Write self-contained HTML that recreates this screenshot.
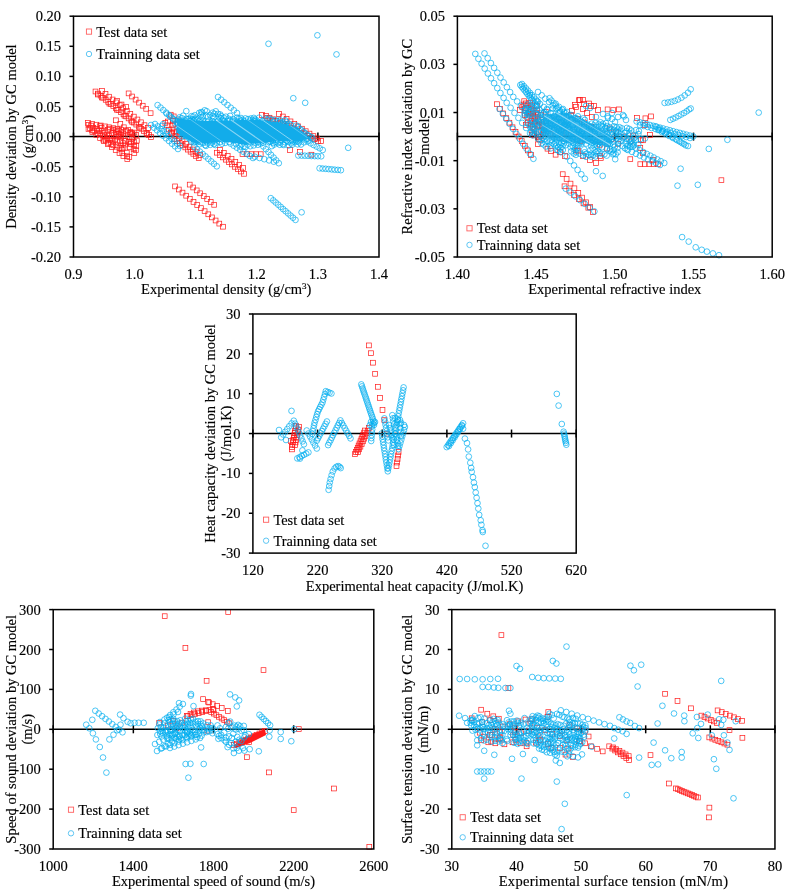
<!DOCTYPE html>
<html><head><meta charset="utf-8"><style>html,body{margin:0;padding:0;background:#fff;width:794px;height:891px;overflow:hidden}svg{display:block;will-change:transform}</style></head>
<body><svg width="794" height="891" viewBox="0 0 794 891" font-family='"Liberation Serif", serif'><g stroke="#000" stroke-width="1.5" fill="none"><line x1="69.50" y1="257.00" x2="73.50" y2="257.00"/><line x1="69.50" y1="226.90" x2="73.50" y2="226.90"/><line x1="69.50" y1="196.80" x2="73.50" y2="196.80"/><line x1="69.50" y1="166.70" x2="73.50" y2="166.70"/><line x1="69.50" y1="136.60" x2="73.50" y2="136.60"/><line x1="69.50" y1="106.50" x2="73.50" y2="106.50"/><line x1="69.50" y1="76.40" x2="73.50" y2="76.40"/><line x1="69.50" y1="46.30" x2="73.50" y2="46.30"/><line x1="69.50" y1="16.20" x2="73.50" y2="16.20"/><line x1="73.50" y1="132.60" x2="73.50" y2="140.60"/><line x1="134.60" y1="132.60" x2="134.60" y2="140.60"/><line x1="195.70" y1="132.60" x2="195.70" y2="140.60"/><line x1="256.80" y1="132.60" x2="256.80" y2="140.60"/><line x1="317.90" y1="132.60" x2="317.90" y2="140.60"/><line x1="379.00" y1="132.60" x2="379.00" y2="140.60"/><line x1="73.50" y1="136.60" x2="379.00" y2="136.60"/></g><g stroke="#FF1A1A" stroke-width="0.7" fill="none"><rect x="93.1" y="89.1" width="4.8" height="4.8"/><rect x="95.6" y="91.2" width="4.8" height="4.8"/><rect x="98.2" y="93.2" width="4.8" height="4.8"/><rect x="100.7" y="95.3" width="4.8" height="4.8"/><rect x="103.3" y="97.4" width="4.8" height="4.8"/><rect x="105.8" y="99.5" width="4.8" height="4.8"/><rect x="108.4" y="101.5" width="4.8" height="4.8"/><rect x="110.9" y="103.6" width="4.8" height="4.8"/><rect x="113.5" y="105.7" width="4.8" height="4.8"/><rect x="116.0" y="107.7" width="4.8" height="4.8"/><rect x="118.6" y="109.8" width="4.8" height="4.8"/><rect x="121.1" y="111.9" width="4.8" height="4.8"/><rect x="123.7" y="114.0" width="4.8" height="4.8"/><rect x="126.2" y="116.0" width="4.8" height="4.8"/><rect x="128.8" y="118.1" width="4.8" height="4.8"/><rect x="131.3" y="120.2" width="4.8" height="4.8"/><rect x="133.9" y="122.2" width="4.8" height="4.8"/><rect x="136.4" y="124.3" width="4.8" height="4.8"/><rect x="139.0" y="126.4" width="4.8" height="4.8"/><rect x="141.5" y="128.5" width="4.8" height="4.8"/><rect x="144.1" y="130.5" width="4.8" height="4.8"/><rect x="146.6" y="132.6" width="4.8" height="4.8"/><rect x="95.6" y="92.1" width="4.8" height="4.8"/><rect x="99.4" y="95.1" width="4.8" height="4.8"/><rect x="107.0" y="101.2" width="4.8" height="4.8"/><rect x="114.5" y="107.3" width="4.8" height="4.8"/><rect x="122.1" y="113.3" width="4.8" height="4.8"/><rect x="129.7" y="119.4" width="4.8" height="4.8"/><rect x="137.2" y="125.5" width="4.8" height="4.8"/><rect x="144.8" y="131.6" width="4.8" height="4.8"/><rect x="148.6" y="134.6" width="4.8" height="4.8"/><rect x="99.6" y="88.6" width="4.8" height="4.8"/><rect x="103.1" y="91.4" width="4.8" height="4.8"/><rect x="106.7" y="94.3" width="4.8" height="4.8"/><rect x="110.2" y="97.1" width="4.8" height="4.8"/><rect x="113.8" y="100.0" width="4.8" height="4.8"/><rect x="117.3" y="102.8" width="4.8" height="4.8"/><rect x="120.8" y="105.7" width="4.8" height="4.8"/><rect x="124.4" y="108.5" width="4.8" height="4.8"/><rect x="127.9" y="111.4" width="4.8" height="4.8"/><rect x="131.4" y="114.2" width="4.8" height="4.8"/><rect x="135.0" y="117.1" width="4.8" height="4.8"/><rect x="138.5" y="119.9" width="4.8" height="4.8"/><rect x="142.1" y="122.8" width="4.8" height="4.8"/><rect x="145.6" y="125.6" width="4.8" height="4.8"/><rect x="114.6" y="98.6" width="4.8" height="4.8"/><rect x="119.1" y="102.1" width="4.8" height="4.8"/><rect x="123.6" y="104.6" width="4.8" height="4.8"/><rect x="126.2" y="91.0" width="4.8" height="4.8"/><rect x="129.7" y="94.1" width="4.8" height="4.8"/><rect x="133.2" y="97.2" width="4.8" height="4.8"/><rect x="136.7" y="100.2" width="4.8" height="4.8"/><rect x="140.3" y="103.3" width="4.8" height="4.8"/><rect x="143.8" y="106.4" width="4.8" height="4.8"/><rect x="148.2" y="110.8" width="4.8" height="4.8"/><rect x="85.6" y="120.5" width="4.8" height="4.8"/><rect x="89.8" y="121.4" width="4.8" height="4.8"/><rect x="94.0" y="122.3" width="4.8" height="4.8"/><rect x="98.3" y="123.1" width="4.8" height="4.8"/><rect x="102.5" y="124.0" width="4.8" height="4.8"/><rect x="106.7" y="124.9" width="4.8" height="4.8"/><rect x="110.9" y="125.8" width="4.8" height="4.8"/><rect x="115.1" y="126.7" width="4.8" height="4.8"/><rect x="119.3" y="127.6" width="4.8" height="4.8"/><rect x="123.6" y="128.4" width="4.8" height="4.8"/><rect x="127.8" y="129.3" width="4.8" height="4.8"/><rect x="132.0" y="130.2" width="4.8" height="4.8"/><rect x="86.1" y="126.7" width="4.8" height="4.8"/><rect x="90.0" y="129.7" width="4.8" height="4.8"/><rect x="93.9" y="132.7" width="4.8" height="4.8"/><rect x="97.7" y="135.7" width="4.8" height="4.8"/><rect x="101.6" y="138.7" width="4.8" height="4.8"/><rect x="105.5" y="141.7" width="4.8" height="4.8"/><rect x="109.4" y="144.7" width="4.8" height="4.8"/><rect x="113.3" y="147.7" width="4.8" height="4.8"/><rect x="117.1" y="150.7" width="4.8" height="4.8"/><rect x="121.0" y="153.7" width="4.8" height="4.8"/><rect x="124.9" y="156.7" width="4.8" height="4.8"/><rect x="128.0" y="130.5" width="4.8" height="4.8"/><rect x="130.1" y="131.5" width="4.8" height="4.8"/><rect x="113.3" y="127.1" width="4.8" height="4.8"/><rect x="116.1" y="128.4" width="4.8" height="4.8"/><rect x="119.0" y="130.1" width="4.8" height="4.8"/><rect x="120.9" y="131.1" width="4.8" height="4.8"/><rect x="127.1" y="134.7" width="4.8" height="4.8"/><rect x="129.8" y="136.0" width="4.8" height="4.8"/><rect x="134.4" y="138.2" width="4.8" height="4.8"/><rect x="107.3" y="126.3" width="4.8" height="4.8"/><rect x="110.8" y="127.9" width="4.8" height="4.8"/><rect x="113.4" y="129.8" width="4.8" height="4.8"/><rect x="116.4" y="131.6" width="4.8" height="4.8"/><rect x="118.1" y="132.8" width="4.8" height="4.8"/><rect x="121.1" y="133.9" width="4.8" height="4.8"/><rect x="128.7" y="139.0" width="4.8" height="4.8"/><rect x="131.5" y="139.6" width="4.8" height="4.8"/><rect x="97.3" y="123.8" width="4.8" height="4.8"/><rect x="99.2" y="125.5" width="4.8" height="4.8"/><rect x="105.4" y="127.6" width="4.8" height="4.8"/><rect x="110.0" y="130.7" width="4.8" height="4.8"/><rect x="113.2" y="133.0" width="4.8" height="4.8"/><rect x="115.9" y="134.2" width="4.8" height="4.8"/><rect x="118.7" y="135.1" width="4.8" height="4.8"/><rect x="123.0" y="138.6" width="4.8" height="4.8"/><rect x="126.4" y="139.6" width="4.8" height="4.8"/><rect x="128.4" y="141.6" width="4.8" height="4.8"/><rect x="131.8" y="143.1" width="4.8" height="4.8"/><rect x="133.9" y="143.6" width="4.8" height="4.8"/><rect x="86.1" y="122.4" width="4.8" height="4.8"/><rect x="88.7" y="123.2" width="4.8" height="4.8"/><rect x="90.9" y="125.5" width="4.8" height="4.8"/><rect x="94.3" y="126.4" width="4.8" height="4.8"/><rect x="96.8" y="128.3" width="4.8" height="4.8"/><rect x="99.3" y="128.8" width="4.8" height="4.8"/><rect x="102.2" y="130.2" width="4.8" height="4.8"/><rect x="104.9" y="132.1" width="4.8" height="4.8"/><rect x="106.6" y="133.4" width="4.8" height="4.8"/><rect x="109.1" y="135.6" width="4.8" height="4.8"/><rect x="112.8" y="137.1" width="4.8" height="4.8"/><rect x="114.6" y="138.0" width="4.8" height="4.8"/><rect x="117.7" y="138.9" width="4.8" height="4.8"/><rect x="120.7" y="140.7" width="4.8" height="4.8"/><rect x="122.7" y="142.1" width="4.8" height="4.8"/><rect x="127.5" y="144.9" width="4.8" height="4.8"/><rect x="131.2" y="146.7" width="4.8" height="4.8"/><rect x="133.5" y="147.8" width="4.8" height="4.8"/><rect x="87.5" y="125.8" width="4.8" height="4.8"/><rect x="89.8" y="127.9" width="4.8" height="4.8"/><rect x="92.0" y="128.6" width="4.8" height="4.8"/><rect x="95.3" y="130.7" width="4.8" height="4.8"/><rect x="97.3" y="131.7" width="4.8" height="4.8"/><rect x="100.2" y="132.8" width="4.8" height="4.8"/><rect x="102.4" y="134.1" width="4.8" height="4.8"/><rect x="104.8" y="135.5" width="4.8" height="4.8"/><rect x="107.7" y="137.8" width="4.8" height="4.8"/><rect x="111.0" y="138.5" width="4.8" height="4.8"/><rect x="118.9" y="143.0" width="4.8" height="4.8"/><rect x="121.1" y="145.2" width="4.8" height="4.8"/><rect x="131.9" y="150.7" width="4.8" height="4.8"/><rect x="100.9" y="137.2" width="4.8" height="4.8"/><rect x="103.5" y="138.1" width="4.8" height="4.8"/><rect x="106.0" y="140.4" width="4.8" height="4.8"/><rect x="108.8" y="141.6" width="4.8" height="4.8"/><rect x="110.9" y="142.9" width="4.8" height="4.8"/><rect x="114.3" y="144.3" width="4.8" height="4.8"/><rect x="117.1" y="145.5" width="4.8" height="4.8"/><rect x="119.4" y="146.9" width="4.8" height="4.8"/><rect x="124.4" y="150.3" width="4.8" height="4.8"/><rect x="119.9" y="150.7" width="4.8" height="4.8"/><rect x="124.6" y="153.8" width="4.8" height="4.8"/><rect x="126.9" y="154.6" width="4.8" height="4.8"/><rect x="113.5" y="117.9" width="4.8" height="4.8"/><rect x="117.9" y="121.4" width="4.8" height="4.8"/><rect x="121.4" y="124.9" width="4.8" height="4.8"/><rect x="125.8" y="127.6" width="4.8" height="4.8"/><rect x="129.3" y="130.2" width="4.8" height="4.8"/><rect x="133.6" y="132.6" width="4.8" height="4.8"/><rect x="172.1" y="136.6" width="4.8" height="4.8"/><rect x="174.8" y="138.7" width="4.8" height="4.8"/><rect x="177.5" y="140.8" width="4.8" height="4.8"/><rect x="180.2" y="142.9" width="4.8" height="4.8"/><rect x="182.9" y="145.0" width="4.8" height="4.8"/><rect x="185.5" y="147.2" width="4.8" height="4.8"/><rect x="188.2" y="149.3" width="4.8" height="4.8"/><rect x="190.9" y="151.4" width="4.8" height="4.8"/><rect x="193.6" y="153.5" width="4.8" height="4.8"/><rect x="196.3" y="155.6" width="4.8" height="4.8"/><rect x="169.6" y="130.6" width="4.8" height="4.8"/><rect x="173.1" y="133.3" width="4.8" height="4.8"/><rect x="176.6" y="136.1" width="4.8" height="4.8"/><rect x="180.1" y="138.8" width="4.8" height="4.8"/><rect x="183.6" y="141.6" width="4.8" height="4.8"/><rect x="187.1" y="144.3" width="4.8" height="4.8"/><rect x="190.6" y="147.1" width="4.8" height="4.8"/><rect x="194.1" y="149.8" width="4.8" height="4.8"/><rect x="197.6" y="152.6" width="4.8" height="4.8"/><rect x="214.4" y="150.3" width="4.8" height="4.8"/><rect x="217.4" y="152.6" width="4.8" height="4.8"/><rect x="220.4" y="155.0" width="4.8" height="4.8"/><rect x="223.5" y="157.3" width="4.8" height="4.8"/><rect x="226.5" y="159.7" width="4.8" height="4.8"/><rect x="229.5" y="162.0" width="4.8" height="4.8"/><rect x="232.5" y="164.4" width="4.8" height="4.8"/><rect x="235.6" y="166.7" width="4.8" height="4.8"/><rect x="238.6" y="169.1" width="4.8" height="4.8"/><rect x="241.6" y="171.4" width="4.8" height="4.8"/><rect x="217.6" y="147.6" width="4.8" height="4.8"/><rect x="221.4" y="150.6" width="4.8" height="4.8"/><rect x="225.3" y="153.6" width="4.8" height="4.8"/><rect x="229.1" y="156.6" width="4.8" height="4.8"/><rect x="232.9" y="159.6" width="4.8" height="4.8"/><rect x="236.8" y="162.6" width="4.8" height="4.8"/><rect x="240.6" y="165.6" width="4.8" height="4.8"/><rect x="240.1" y="151.8" width="4.8" height="4.8"/><rect x="244.7" y="151.8" width="4.8" height="4.8"/><rect x="249.2" y="151.8" width="4.8" height="4.8"/><rect x="253.7" y="151.8" width="4.8" height="4.8"/><rect x="258.3" y="151.8" width="4.8" height="4.8"/><rect x="263.6" y="113.6" width="4.8" height="4.8"/><rect x="267.1" y="115.3" width="4.8" height="4.8"/><rect x="270.5" y="116.9" width="4.8" height="4.8"/><rect x="274.0" y="118.6" width="4.8" height="4.8"/><rect x="277.5" y="120.3" width="4.8" height="4.8"/><rect x="280.9" y="121.9" width="4.8" height="4.8"/><rect x="284.4" y="123.6" width="4.8" height="4.8"/><rect x="287.9" y="125.3" width="4.8" height="4.8"/><rect x="291.3" y="126.9" width="4.8" height="4.8"/><rect x="294.8" y="128.6" width="4.8" height="4.8"/><rect x="298.3" y="130.3" width="4.8" height="4.8"/><rect x="301.7" y="131.9" width="4.8" height="4.8"/><rect x="305.2" y="133.6" width="4.8" height="4.8"/><rect x="308.7" y="135.3" width="4.8" height="4.8"/><rect x="312.1" y="136.9" width="4.8" height="4.8"/><rect x="315.6" y="138.6" width="4.8" height="4.8"/><rect x="276.6" y="111.6" width="4.8" height="4.8"/><rect x="280.4" y="114.1" width="4.8" height="4.8"/><rect x="284.2" y="116.5" width="4.8" height="4.8"/><rect x="288.1" y="119.0" width="4.8" height="4.8"/><rect x="291.9" y="121.4" width="4.8" height="4.8"/><rect x="295.7" y="123.9" width="4.8" height="4.8"/><rect x="299.5" y="126.3" width="4.8" height="4.8"/><rect x="303.3" y="128.8" width="4.8" height="4.8"/><rect x="307.1" y="131.2" width="4.8" height="4.8"/><rect x="311.0" y="133.7" width="4.8" height="4.8"/><rect x="314.8" y="136.1" width="4.8" height="4.8"/><rect x="318.6" y="138.6" width="4.8" height="4.8"/><rect x="259.6" y="112.6" width="4.8" height="4.8"/><rect x="265.0" y="115.5" width="4.8" height="4.8"/><rect x="270.5" y="118.3" width="4.8" height="4.8"/><rect x="275.9" y="121.2" width="4.8" height="4.8"/><rect x="281.3" y="124.0" width="4.8" height="4.8"/><rect x="286.7" y="126.9" width="4.8" height="4.8"/><rect x="292.2" y="129.7" width="4.8" height="4.8"/><rect x="297.6" y="132.6" width="4.8" height="4.8"/><rect x="309.0" y="152.3" width="4.8" height="4.8"/><rect x="297.6" y="149.6" width="4.8" height="4.8"/><rect x="287.6" y="147.6" width="4.8" height="4.8"/><rect x="172.7" y="184.0" width="4.8" height="4.8"/><rect x="176.4" y="187.1" width="4.8" height="4.8"/><rect x="180.1" y="190.2" width="4.8" height="4.8"/><rect x="183.8" y="193.3" width="4.8" height="4.8"/><rect x="187.4" y="196.4" width="4.8" height="4.8"/><rect x="191.1" y="199.5" width="4.8" height="4.8"/><rect x="194.8" y="202.6" width="4.8" height="4.8"/><rect x="198.5" y="205.7" width="4.8" height="4.8"/><rect x="202.2" y="208.8" width="4.8" height="4.8"/><rect x="205.9" y="211.9" width="4.8" height="4.8"/><rect x="209.5" y="215.0" width="4.8" height="4.8"/><rect x="213.2" y="218.1" width="4.8" height="4.8"/><rect x="216.9" y="221.2" width="4.8" height="4.8"/><rect x="220.6" y="224.3" width="4.8" height="4.8"/><rect x="187.3" y="182.2" width="4.8" height="4.8"/><rect x="190.8" y="185.1" width="4.8" height="4.8"/><rect x="194.3" y="188.0" width="4.8" height="4.8"/><rect x="197.8" y="190.9" width="4.8" height="4.8"/><rect x="201.3" y="193.7" width="4.8" height="4.8"/><rect x="204.8" y="196.6" width="4.8" height="4.8"/><rect x="208.3" y="199.5" width="4.8" height="4.8"/><rect x="211.8" y="202.4" width="4.8" height="4.8"/><rect x="168.3" y="112.3" width="4.8" height="4.8"/><rect x="171.3" y="114.0" width="4.8" height="4.8"/><rect x="175.4" y="118.0" width="4.8" height="4.8"/><rect x="170.4" y="118.5" width="4.8" height="4.8"/><rect x="172.8" y="121.2" width="4.8" height="4.8"/><rect x="165.6" y="119.1" width="4.8" height="4.8"/><rect x="170.8" y="122.5" width="4.8" height="4.8"/><rect x="177.6" y="128.8" width="4.8" height="4.8"/><rect x="162.9" y="120.5" width="4.8" height="4.8"/><rect x="164.6" y="122.9" width="4.8" height="4.8"/><rect x="170.1" y="127.0" width="4.8" height="4.8"/><rect x="171.6" y="129.1" width="4.8" height="4.8"/><rect x="174.5" y="129.9" width="4.8" height="4.8"/><rect x="166.4" y="127.2" width="4.8" height="4.8"/><rect x="168.4" y="130.1" width="4.8" height="4.8"/></g><g stroke="#00AEEF" stroke-width="0.7" fill="none"><circle cx="268.5" cy="43.8" r="2.85"/><circle cx="317.4" cy="35.3" r="2.85"/><circle cx="336.5" cy="54.4" r="2.85"/><circle cx="293.3" cy="98.2" r="2.85"/><circle cx="305.2" cy="102.8" r="2.85"/><circle cx="348.2" cy="147.8" r="2.85"/><circle cx="186.3" cy="111.1" r="2.85"/><circle cx="191.4" cy="116.2" r="2.85"/><circle cx="194.4" cy="119.2" r="2.85"/><circle cx="163.0" cy="124.2" r="2.85"/><circle cx="270.8" cy="198.2" r="2.85"/><circle cx="273.3" cy="200.4" r="2.85"/><circle cx="275.7" cy="202.5" r="2.85"/><circle cx="278.2" cy="204.7" r="2.85"/><circle cx="280.7" cy="206.9" r="2.85"/><circle cx="283.1" cy="209.1" r="2.85"/><circle cx="285.6" cy="211.2" r="2.85"/><circle cx="288.1" cy="213.4" r="2.85"/><circle cx="290.6" cy="215.6" r="2.85"/><circle cx="293.0" cy="217.7" r="2.85"/><circle cx="295.5" cy="219.9" r="2.85"/><circle cx="301.6" cy="212.3" r="2.85"/><circle cx="319.6" cy="168.3" r="2.85"/><circle cx="322.6" cy="168.6" r="2.85"/><circle cx="325.7" cy="168.8" r="2.85"/><circle cx="328.7" cy="169.1" r="2.85"/><circle cx="331.8" cy="169.4" r="2.85"/><circle cx="334.8" cy="169.7" r="2.85"/><circle cx="337.9" cy="169.9" r="2.85"/><circle cx="340.9" cy="170.2" r="2.85"/><circle cx="298.3" cy="155.5" r="2.85"/><circle cx="301.6" cy="155.6" r="2.85"/><circle cx="304.8" cy="155.7" r="2.85"/><circle cx="308.1" cy="155.8" r="2.85"/><circle cx="311.4" cy="156.0" r="2.85"/><circle cx="314.7" cy="156.1" r="2.85"/><circle cx="317.9" cy="156.2" r="2.85"/><circle cx="321.2" cy="156.3" r="2.85"/><circle cx="307.6" cy="141.6" r="2.85"/><circle cx="310.6" cy="143.3" r="2.85"/><circle cx="313.6" cy="145.0" r="2.85"/><circle cx="316.7" cy="146.6" r="2.85"/><circle cx="319.7" cy="148.3" r="2.85"/><circle cx="322.7" cy="150.0" r="2.85"/><circle cx="157.6" cy="105.1" r="2.85"/><circle cx="160.5" cy="107.6" r="2.85"/><circle cx="163.3" cy="110.1" r="2.85"/><circle cx="166.2" cy="112.6" r="2.85"/><circle cx="169.1" cy="115.2" r="2.85"/><circle cx="172.0" cy="117.7" r="2.85"/><circle cx="174.8" cy="120.2" r="2.85"/><circle cx="177.7" cy="122.7" r="2.85"/><circle cx="166.7" cy="113.7" r="2.85"/><circle cx="170.0" cy="116.5" r="2.85"/><circle cx="173.3" cy="119.3" r="2.85"/><circle cx="176.7" cy="122.2" r="2.85"/><circle cx="180.0" cy="125.0" r="2.85"/><circle cx="151.0" cy="125.0" r="2.85"/><circle cx="154.0" cy="127.7" r="2.85"/><circle cx="157.0" cy="130.3" r="2.85"/><circle cx="160.0" cy="133.0" r="2.85"/><circle cx="163.0" cy="135.7" r="2.85"/><circle cx="166.0" cy="138.3" r="2.85"/><circle cx="169.0" cy="141.0" r="2.85"/><circle cx="172.0" cy="143.7" r="2.85"/><circle cx="175.0" cy="146.3" r="2.85"/><circle cx="178.0" cy="149.0" r="2.85"/><circle cx="155.0" cy="124.0" r="2.85"/><circle cx="157.8" cy="126.4" r="2.85"/><circle cx="160.6" cy="128.9" r="2.85"/><circle cx="163.3" cy="131.3" r="2.85"/><circle cx="166.1" cy="133.8" r="2.85"/><circle cx="168.9" cy="136.2" r="2.85"/><circle cx="171.7" cy="138.7" r="2.85"/><circle cx="174.4" cy="141.1" r="2.85"/><circle cx="177.2" cy="143.6" r="2.85"/><circle cx="180.0" cy="146.0" r="2.85"/><circle cx="194.2" cy="146.6" r="2.85"/><circle cx="197.0" cy="149.1" r="2.85"/><circle cx="199.8" cy="151.5" r="2.85"/><circle cx="202.7" cy="154.0" r="2.85"/><circle cx="205.5" cy="156.4" r="2.85"/><circle cx="208.3" cy="158.9" r="2.85"/><circle cx="211.2" cy="161.4" r="2.85"/><circle cx="214.0" cy="163.8" r="2.85"/><circle cx="216.8" cy="166.3" r="2.85"/><circle cx="230.5" cy="143.6" r="2.85"/><circle cx="233.7" cy="145.7" r="2.85"/><circle cx="236.9" cy="147.7" r="2.85"/><circle cx="240.1" cy="149.8" r="2.85"/><circle cx="243.4" cy="151.8" r="2.85"/><circle cx="246.6" cy="153.9" r="2.85"/><circle cx="249.8" cy="155.9" r="2.85"/><circle cx="253.0" cy="158.0" r="2.85"/><circle cx="260.7" cy="143.6" r="2.85"/><circle cx="263.3" cy="146.4" r="2.85"/><circle cx="265.9" cy="149.2" r="2.85"/><circle cx="268.5" cy="152.0" r="2.85"/><circle cx="271.0" cy="154.8" r="2.85"/><circle cx="273.6" cy="157.6" r="2.85"/><circle cx="276.2" cy="160.4" r="2.85"/><circle cx="278.8" cy="163.2" r="2.85"/><circle cx="218.0" cy="97.0" r="2.85"/><circle cx="221.2" cy="99.7" r="2.85"/><circle cx="224.3" cy="102.3" r="2.85"/><circle cx="227.5" cy="105.0" r="2.85"/><circle cx="230.7" cy="107.7" r="2.85"/><circle cx="233.8" cy="110.3" r="2.85"/><circle cx="237.0" cy="113.0" r="2.85"/><circle cx="254.8" cy="156.7" r="2.85"/><circle cx="259.5" cy="158.0" r="2.85"/><circle cx="264.3" cy="159.2" r="2.85"/><circle cx="269.1" cy="160.4" r="2.85"/><circle cx="273.8" cy="161.7" r="2.85"/><circle cx="296.3" cy="125.5" r="2.85"/><circle cx="298.0" cy="126.9" r="2.85"/><circle cx="299.5" cy="128.7" r="2.85"/><circle cx="301.9" cy="130.4" r="2.85"/><circle cx="303.5" cy="131.9" r="2.85"/><circle cx="305.0" cy="133.1" r="2.85"/><circle cx="307.3" cy="134.8" r="2.85"/><circle cx="308.8" cy="135.8" r="2.85"/><circle cx="311.2" cy="137.0" r="2.85"/><circle cx="312.6" cy="138.6" r="2.85"/><circle cx="285.1" cy="120.2" r="2.85"/><circle cx="286.5" cy="122.0" r="2.85"/><circle cx="288.9" cy="123.9" r="2.85"/><circle cx="290.8" cy="124.9" r="2.85"/><circle cx="293.7" cy="128.3" r="2.85"/><circle cx="296.1" cy="130.2" r="2.85"/><circle cx="297.2" cy="131.1" r="2.85"/><circle cx="301.0" cy="134.6" r="2.85"/><circle cx="306.8" cy="138.9" r="2.85"/><circle cx="308.7" cy="140.5" r="2.85"/><circle cx="279.9" cy="120.1" r="2.85"/><circle cx="282.7" cy="122.2" r="2.85"/><circle cx="284.3" cy="123.7" r="2.85"/><circle cx="285.5" cy="124.4" r="2.85"/><circle cx="288.1" cy="126.1" r="2.85"/><circle cx="300.7" cy="136.8" r="2.85"/><circle cx="302.7" cy="138.1" r="2.85"/><circle cx="305.3" cy="139.5" r="2.85"/><circle cx="275.2" cy="119.9" r="2.85"/><circle cx="278.1" cy="121.4" r="2.85"/><circle cx="279.9" cy="122.4" r="2.85"/><circle cx="281.3" cy="123.8" r="2.85"/><circle cx="285.4" cy="127.3" r="2.85"/><circle cx="287.3" cy="128.3" r="2.85"/><circle cx="288.3" cy="129.8" r="2.85"/><circle cx="290.3" cy="131.2" r="2.85"/><circle cx="294.9" cy="135.0" r="2.85"/><circle cx="296.8" cy="135.8" r="2.85"/><circle cx="298.5" cy="137.9" r="2.85"/><circle cx="299.9" cy="139.0" r="2.85"/><circle cx="304.1" cy="142.3" r="2.85"/><circle cx="269.3" cy="118.5" r="2.85"/><circle cx="271.8" cy="120.0" r="2.85"/><circle cx="273.5" cy="122.3" r="2.85"/><circle cx="278.5" cy="126.1" r="2.85"/><circle cx="280.5" cy="128.1" r="2.85"/><circle cx="283.9" cy="131.0" r="2.85"/><circle cx="286.0" cy="132.5" r="2.85"/><circle cx="292.5" cy="136.4" r="2.85"/><circle cx="294.5" cy="138.9" r="2.85"/><circle cx="296.0" cy="140.3" r="2.85"/><circle cx="297.9" cy="141.4" r="2.85"/><circle cx="299.2" cy="142.3" r="2.85"/><circle cx="301.0" cy="144.5" r="2.85"/><circle cx="265.3" cy="118.6" r="2.85"/><circle cx="267.4" cy="119.8" r="2.85"/><circle cx="275.9" cy="127.8" r="2.85"/><circle cx="277.9" cy="128.8" r="2.85"/><circle cx="280.0" cy="130.7" r="2.85"/><circle cx="282.2" cy="131.6" r="2.85"/><circle cx="285.3" cy="135.1" r="2.85"/><circle cx="287.5" cy="137.2" r="2.85"/><circle cx="289.5" cy="138.1" r="2.85"/><circle cx="291.9" cy="140.0" r="2.85"/><circle cx="292.8" cy="141.3" r="2.85"/><circle cx="294.9" cy="142.1" r="2.85"/><circle cx="297.6" cy="144.3" r="2.85"/><circle cx="259.1" cy="117.7" r="2.85"/><circle cx="262.5" cy="120.9" r="2.85"/><circle cx="264.1" cy="122.7" r="2.85"/><circle cx="265.9" cy="123.9" r="2.85"/><circle cx="268.7" cy="125.2" r="2.85"/><circle cx="269.5" cy="126.2" r="2.85"/><circle cx="272.3" cy="127.8" r="2.85"/><circle cx="276.2" cy="131.5" r="2.85"/><circle cx="277.3" cy="132.9" r="2.85"/><circle cx="279.3" cy="134.7" r="2.85"/><circle cx="281.6" cy="135.7" r="2.85"/><circle cx="283.2" cy="137.4" r="2.85"/><circle cx="285.5" cy="139.4" r="2.85"/><circle cx="286.7" cy="140.7" r="2.85"/><circle cx="288.5" cy="141.9" r="2.85"/><circle cx="291.2" cy="143.4" r="2.85"/><circle cx="292.2" cy="144.7" r="2.85"/><circle cx="253.8" cy="117.9" r="2.85"/><circle cx="255.0" cy="119.4" r="2.85"/><circle cx="256.6" cy="120.4" r="2.85"/><circle cx="258.3" cy="122.0" r="2.85"/><circle cx="261.2" cy="123.6" r="2.85"/><circle cx="262.9" cy="125.4" r="2.85"/><circle cx="264.5" cy="126.1" r="2.85"/><circle cx="266.5" cy="128.4" r="2.85"/><circle cx="268.6" cy="129.8" r="2.85"/><circle cx="270.5" cy="130.4" r="2.85"/><circle cx="272.1" cy="132.8" r="2.85"/><circle cx="273.4" cy="134.3" r="2.85"/><circle cx="276.1" cy="135.0" r="2.85"/><circle cx="277.1" cy="136.4" r="2.85"/><circle cx="281.2" cy="140.3" r="2.85"/><circle cx="285.3" cy="142.3" r="2.85"/><circle cx="288.5" cy="145.5" r="2.85"/><circle cx="250.9" cy="118.5" r="2.85"/><circle cx="252.7" cy="120.1" r="2.85"/><circle cx="254.4" cy="121.1" r="2.85"/><circle cx="259.8" cy="126.5" r="2.85"/><circle cx="261.2" cy="127.9" r="2.85"/><circle cx="263.6" cy="129.3" r="2.85"/><circle cx="265.1" cy="130.9" r="2.85"/><circle cx="267.4" cy="132.5" r="2.85"/><circle cx="268.9" cy="134.1" r="2.85"/><circle cx="273.0" cy="136.9" r="2.85"/><circle cx="274.5" cy="137.8" r="2.85"/><circle cx="276.1" cy="139.7" r="2.85"/><circle cx="280.1" cy="142.3" r="2.85"/><circle cx="282.8" cy="144.2" r="2.85"/><circle cx="283.8" cy="145.0" r="2.85"/><circle cx="245.4" cy="118.4" r="2.85"/><circle cx="248.1" cy="119.1" r="2.85"/><circle cx="250.2" cy="120.5" r="2.85"/><circle cx="252.0" cy="122.1" r="2.85"/><circle cx="253.5" cy="123.5" r="2.85"/><circle cx="257.3" cy="127.1" r="2.85"/><circle cx="260.4" cy="129.7" r="2.85"/><circle cx="262.8" cy="131.6" r="2.85"/><circle cx="264.6" cy="133.4" r="2.85"/><circle cx="267.2" cy="134.3" r="2.85"/><circle cx="268.0" cy="135.9" r="2.85"/><circle cx="270.0" cy="137.5" r="2.85"/><circle cx="272.2" cy="139.0" r="2.85"/><circle cx="273.7" cy="140.0" r="2.85"/><circle cx="276.2" cy="141.8" r="2.85"/><circle cx="277.7" cy="143.2" r="2.85"/><circle cx="279.8" cy="144.8" r="2.85"/><circle cx="240.9" cy="118.0" r="2.85"/><circle cx="242.6" cy="119.9" r="2.85"/><circle cx="244.6" cy="121.2" r="2.85"/><circle cx="249.8" cy="125.7" r="2.85"/><circle cx="252.1" cy="126.5" r="2.85"/><circle cx="260.0" cy="132.7" r="2.85"/><circle cx="261.5" cy="134.4" r="2.85"/><circle cx="263.7" cy="135.5" r="2.85"/><circle cx="268.7" cy="140.5" r="2.85"/><circle cx="270.5" cy="141.9" r="2.85"/><circle cx="273.2" cy="143.0" r="2.85"/><circle cx="274.1" cy="144.6" r="2.85"/><circle cx="237.0" cy="117.6" r="2.85"/><circle cx="238.9" cy="118.6" r="2.85"/><circle cx="240.4" cy="120.7" r="2.85"/><circle cx="242.5" cy="122.3" r="2.85"/><circle cx="243.5" cy="122.8" r="2.85"/><circle cx="245.6" cy="125.3" r="2.85"/><circle cx="249.5" cy="127.3" r="2.85"/><circle cx="253.1" cy="130.7" r="2.85"/><circle cx="255.6" cy="132.0" r="2.85"/><circle cx="257.2" cy="133.9" r="2.85"/><circle cx="258.9" cy="135.1" r="2.85"/><circle cx="261.5" cy="136.8" r="2.85"/><circle cx="262.7" cy="138.6" r="2.85"/><circle cx="264.1" cy="139.6" r="2.85"/><circle cx="268.8" cy="142.2" r="2.85"/><circle cx="271.8" cy="146.1" r="2.85"/><circle cx="230.1" cy="115.9" r="2.85"/><circle cx="233.2" cy="119.1" r="2.85"/><circle cx="234.9" cy="120.7" r="2.85"/><circle cx="237.1" cy="121.7" r="2.85"/><circle cx="239.3" cy="123.6" r="2.85"/><circle cx="240.6" cy="124.7" r="2.85"/><circle cx="242.9" cy="126.5" r="2.85"/><circle cx="245.1" cy="127.7" r="2.85"/><circle cx="246.4" cy="129.2" r="2.85"/><circle cx="248.8" cy="130.8" r="2.85"/><circle cx="250.0" cy="131.8" r="2.85"/><circle cx="252.3" cy="133.9" r="2.85"/><circle cx="253.4" cy="135.5" r="2.85"/><circle cx="258.3" cy="138.3" r="2.85"/><circle cx="259.6" cy="140.1" r="2.85"/><circle cx="261.8" cy="141.0" r="2.85"/><circle cx="263.0" cy="142.8" r="2.85"/><circle cx="225.9" cy="116.7" r="2.85"/><circle cx="228.5" cy="118.7" r="2.85"/><circle cx="230.0" cy="120.1" r="2.85"/><circle cx="232.3" cy="121.9" r="2.85"/><circle cx="235.9" cy="125.2" r="2.85"/><circle cx="237.5" cy="126.5" r="2.85"/><circle cx="246.6" cy="133.3" r="2.85"/><circle cx="252.0" cy="138.0" r="2.85"/><circle cx="254.8" cy="139.4" r="2.85"/><circle cx="255.9" cy="140.8" r="2.85"/><circle cx="257.8" cy="142.1" r="2.85"/><circle cx="215.8" cy="111.3" r="2.85"/><circle cx="218.1" cy="113.9" r="2.85"/><circle cx="220.3" cy="114.5" r="2.85"/><circle cx="221.2" cy="116.1" r="2.85"/><circle cx="223.6" cy="117.7" r="2.85"/><circle cx="227.1" cy="121.0" r="2.85"/><circle cx="232.8" cy="125.8" r="2.85"/><circle cx="234.4" cy="126.8" r="2.85"/><circle cx="237.0" cy="128.4" r="2.85"/><circle cx="238.9" cy="129.8" r="2.85"/><circle cx="240.6" cy="131.1" r="2.85"/><circle cx="242.0" cy="132.5" r="2.85"/><circle cx="244.4" cy="133.7" r="2.85"/><circle cx="246.0" cy="136.2" r="2.85"/><circle cx="248.0" cy="137.6" r="2.85"/><circle cx="250.4" cy="138.5" r="2.85"/><circle cx="251.5" cy="140.0" r="2.85"/><circle cx="255.5" cy="142.9" r="2.85"/><circle cx="257.9" cy="144.8" r="2.85"/><circle cx="212.7" cy="112.7" r="2.85"/><circle cx="214.4" cy="113.9" r="2.85"/><circle cx="218.6" cy="117.1" r="2.85"/><circle cx="220.5" cy="118.1" r="2.85"/><circle cx="222.8" cy="120.0" r="2.85"/><circle cx="224.1" cy="121.4" r="2.85"/><circle cx="226.2" cy="123.4" r="2.85"/><circle cx="227.9" cy="123.9" r="2.85"/><circle cx="233.6" cy="129.3" r="2.85"/><circle cx="236.0" cy="130.4" r="2.85"/><circle cx="239.8" cy="133.2" r="2.85"/><circle cx="240.7" cy="134.8" r="2.85"/><circle cx="244.7" cy="137.2" r="2.85"/><circle cx="246.9" cy="139.0" r="2.85"/><circle cx="248.2" cy="141.3" r="2.85"/><circle cx="251.0" cy="142.4" r="2.85"/><circle cx="253.8" cy="145.4" r="2.85"/><circle cx="204.7" cy="110.3" r="2.85"/><circle cx="206.7" cy="111.2" r="2.85"/><circle cx="210.0" cy="114.9" r="2.85"/><circle cx="212.6" cy="116.1" r="2.85"/><circle cx="213.9" cy="117.5" r="2.85"/><circle cx="218.0" cy="120.8" r="2.85"/><circle cx="219.9" cy="122.6" r="2.85"/><circle cx="222.3" cy="123.9" r="2.85"/><circle cx="225.1" cy="127.0" r="2.85"/><circle cx="229.4" cy="129.5" r="2.85"/><circle cx="230.9" cy="131.0" r="2.85"/><circle cx="233.6" cy="133.3" r="2.85"/><circle cx="235.3" cy="134.6" r="2.85"/><circle cx="238.9" cy="137.8" r="2.85"/><circle cx="240.3" cy="138.6" r="2.85"/><circle cx="247.6" cy="144.7" r="2.85"/><circle cx="250.3" cy="146.2" r="2.85"/><circle cx="201.2" cy="112.1" r="2.85"/><circle cx="202.3" cy="112.6" r="2.85"/><circle cx="206.3" cy="115.6" r="2.85"/><circle cx="207.8" cy="117.0" r="2.85"/><circle cx="212.3" cy="121.1" r="2.85"/><circle cx="213.6" cy="122.3" r="2.85"/><circle cx="215.7" cy="123.9" r="2.85"/><circle cx="219.0" cy="126.3" r="2.85"/><circle cx="221.8" cy="127.6" r="2.85"/><circle cx="223.5" cy="129.2" r="2.85"/><circle cx="228.6" cy="133.5" r="2.85"/><circle cx="230.8" cy="135.2" r="2.85"/><circle cx="232.3" cy="137.5" r="2.85"/><circle cx="234.6" cy="138.7" r="2.85"/><circle cx="241.8" cy="144.3" r="2.85"/><circle cx="243.6" cy="146.5" r="2.85"/><circle cx="245.4" cy="147.0" r="2.85"/><circle cx="199.2" cy="112.9" r="2.85"/><circle cx="201.1" cy="114.7" r="2.85"/><circle cx="202.7" cy="116.4" r="2.85"/><circle cx="208.2" cy="121.3" r="2.85"/><circle cx="210.8" cy="122.8" r="2.85"/><circle cx="212.5" cy="124.2" r="2.85"/><circle cx="216.0" cy="127.3" r="2.85"/><circle cx="217.8" cy="128.6" r="2.85"/><circle cx="220.1" cy="130.2" r="2.85"/><circle cx="221.5" cy="131.8" r="2.85"/><circle cx="222.9" cy="133.3" r="2.85"/><circle cx="227.5" cy="135.3" r="2.85"/><circle cx="228.7" cy="138.0" r="2.85"/><circle cx="236.0" cy="144.0" r="2.85"/><circle cx="240.2" cy="146.5" r="2.85"/><circle cx="194.8" cy="115.2" r="2.85"/><circle cx="200.5" cy="119.4" r="2.85"/><circle cx="202.9" cy="120.8" r="2.85"/><circle cx="204.1" cy="122.7" r="2.85"/><circle cx="208.1" cy="125.1" r="2.85"/><circle cx="210.1" cy="127.3" r="2.85"/><circle cx="212.1" cy="128.1" r="2.85"/><circle cx="217.4" cy="132.6" r="2.85"/><circle cx="221.0" cy="136.4" r="2.85"/><circle cx="223.0" cy="137.4" r="2.85"/><circle cx="225.0" cy="139.1" r="2.85"/><circle cx="229.2" cy="141.9" r="2.85"/><circle cx="193.3" cy="116.5" r="2.85"/><circle cx="195.6" cy="118.5" r="2.85"/><circle cx="197.1" cy="119.5" r="2.85"/><circle cx="198.7" cy="121.3" r="2.85"/><circle cx="200.7" cy="122.4" r="2.85"/><circle cx="202.9" cy="124.7" r="2.85"/><circle cx="203.9" cy="126.1" r="2.85"/><circle cx="208.0" cy="128.7" r="2.85"/><circle cx="209.9" cy="130.8" r="2.85"/><circle cx="211.8" cy="131.5" r="2.85"/><circle cx="215.6" cy="135.0" r="2.85"/><circle cx="217.8" cy="136.1" r="2.85"/><circle cx="221.2" cy="138.8" r="2.85"/><circle cx="223.6" cy="140.5" r="2.85"/><circle cx="225.1" cy="142.9" r="2.85"/><circle cx="189.4" cy="118.6" r="2.85"/><circle cx="192.3" cy="119.5" r="2.85"/><circle cx="193.6" cy="120.6" r="2.85"/><circle cx="195.0" cy="122.6" r="2.85"/><circle cx="201.0" cy="127.5" r="2.85"/><circle cx="203.4" cy="129.1" r="2.85"/><circle cx="206.7" cy="131.6" r="2.85"/><circle cx="208.4" cy="133.2" r="2.85"/><circle cx="209.9" cy="134.4" r="2.85"/><circle cx="213.0" cy="135.6" r="2.85"/><circle cx="214.6" cy="138.2" r="2.85"/><circle cx="220.0" cy="142.0" r="2.85"/><circle cx="221.9" cy="143.7" r="2.85"/><circle cx="183.2" cy="115.7" r="2.85"/><circle cx="186.1" cy="118.7" r="2.85"/><circle cx="188.0" cy="119.1" r="2.85"/><circle cx="190.2" cy="120.8" r="2.85"/><circle cx="192.3" cy="122.6" r="2.85"/><circle cx="193.4" cy="124.5" r="2.85"/><circle cx="197.7" cy="127.4" r="2.85"/><circle cx="199.9" cy="128.6" r="2.85"/><circle cx="201.5" cy="130.2" r="2.85"/><circle cx="203.4" cy="131.5" r="2.85"/><circle cx="205.1" cy="132.9" r="2.85"/><circle cx="207.6" cy="134.4" r="2.85"/><circle cx="214.2" cy="140.7" r="2.85"/><circle cx="216.6" cy="142.6" r="2.85"/><circle cx="179.6" cy="117.3" r="2.85"/><circle cx="181.7" cy="118.1" r="2.85"/><circle cx="185.6" cy="120.7" r="2.85"/><circle cx="187.5" cy="122.9" r="2.85"/><circle cx="188.7" cy="124.3" r="2.85"/><circle cx="191.5" cy="126.2" r="2.85"/><circle cx="193.3" cy="127.2" r="2.85"/><circle cx="194.8" cy="129.2" r="2.85"/><circle cx="197.3" cy="130.8" r="2.85"/><circle cx="199.2" cy="132.1" r="2.85"/><circle cx="200.5" cy="133.5" r="2.85"/><circle cx="202.7" cy="134.4" r="2.85"/><circle cx="203.9" cy="135.7" r="2.85"/><circle cx="208.2" cy="139.6" r="2.85"/><circle cx="209.6" cy="140.9" r="2.85"/><circle cx="211.8" cy="142.6" r="2.85"/><circle cx="214.0" cy="144.1" r="2.85"/><circle cx="215.3" cy="145.0" r="2.85"/><circle cx="178.4" cy="119.4" r="2.85"/><circle cx="179.7" cy="120.8" r="2.85"/><circle cx="181.6" cy="122.4" r="2.85"/><circle cx="183.4" cy="123.5" r="2.85"/><circle cx="185.9" cy="125.6" r="2.85"/><circle cx="189.8" cy="128.4" r="2.85"/><circle cx="190.7" cy="129.3" r="2.85"/><circle cx="196.5" cy="133.7" r="2.85"/><circle cx="198.3" cy="135.0" r="2.85"/><circle cx="200.9" cy="137.5" r="2.85"/><circle cx="202.4" cy="138.6" r="2.85"/><circle cx="204.1" cy="139.9" r="2.85"/><circle cx="206.4" cy="141.6" r="2.85"/><circle cx="207.6" cy="143.3" r="2.85"/><circle cx="210.4" cy="144.8" r="2.85"/><circle cx="177.9" cy="123.8" r="2.85"/><circle cx="181.7" cy="126.6" r="2.85"/><circle cx="183.7" cy="127.9" r="2.85"/><circle cx="185.8" cy="129.4" r="2.85"/><circle cx="187.5" cy="131.7" r="2.85"/><circle cx="189.9" cy="133.1" r="2.85"/><circle cx="193.7" cy="136.4" r="2.85"/><circle cx="194.9" cy="137.6" r="2.85"/><circle cx="200.4" cy="142.1" r="2.85"/><circle cx="202.9" cy="143.0" r="2.85"/><circle cx="205.1" cy="145.1" r="2.85"/><circle cx="206.0" cy="145.9" r="2.85"/><circle cx="176.6" cy="125.8" r="2.85"/><circle cx="179.5" cy="126.9" r="2.85"/><circle cx="184.1" cy="131.8" r="2.85"/><circle cx="190.1" cy="136.0" r="2.85"/><circle cx="191.9" cy="137.4" r="2.85"/><circle cx="193.8" cy="139.7" r="2.85"/><circle cx="195.3" cy="141.6" r="2.85"/><circle cx="197.8" cy="142.0" r="2.85"/><circle cx="199.6" cy="144.2" r="2.85"/><circle cx="179.0" cy="130.0" r="2.85"/><circle cx="183.1" cy="133.5" r="2.85"/><circle cx="183.7" cy="135.4" r="2.85"/><circle cx="185.9" cy="136.0" r="2.85"/><circle cx="188.4" cy="137.8" r="2.85"/><circle cx="190.2" cy="139.2" r="2.85"/><circle cx="191.4" cy="141.4" r="2.85"/><circle cx="194.2" cy="142.5" r="2.85"/><circle cx="179.0" cy="133.8" r="2.85"/><circle cx="182.2" cy="136.6" r="2.85"/><circle cx="162.0" cy="126.0" r="2.85"/><circle cx="167.0" cy="131.0" r="2.85"/></g><clipPath id="clip_c1_0"><polygon points="177.0,118.0 198.0,121.0 215.0,121.0 240.0,120.0 259.0,120.0 278.0,122.0 293.0,126.5 303.0,132.0 308.0,136.0 307.0,139.0 300.0,141.0 278.0,141.0 265.0,143.0 255.0,143.0 246.0,145.0 226.0,142.0 207.0,143.0 197.0,144.0 186.0,139.0 177.0,133.0"/></clipPath><g clip-path="url(#clip_c1_0)"><polygon points="177.0,118.0 198.0,121.0 215.0,121.0 240.0,120.0 259.0,120.0 278.0,122.0 293.0,126.5 303.0,132.0 308.0,136.0 307.0,139.0 300.0,141.0 278.0,141.0 265.0,143.0 255.0,143.0 246.0,145.0 226.0,142.0 207.0,143.0 197.0,144.0 186.0,139.0 177.0,133.0" fill="#12ACEA" fill-opacity="1.0"/><g stroke="#fff" stroke-opacity="0.5"><line x1="97.1" y1="-9.6" x2="424.8" y2="219.8" stroke-width="0.6"/><line x1="90.6" y1="-0.3" x2="418.3" y2="229.1" stroke-width="1.0"/><line x1="85.8" y1="6.7" x2="413.5" y2="236.0" stroke-width="0.6"/><line x1="80.3" y1="14.5" x2="408.0" y2="243.9" stroke-width="1.1"/><line x1="75.3" y1="21.5" x2="403.0" y2="250.9" stroke-width="1.1"/><line x1="67.1" y1="33.2" x2="394.8" y2="262.6" stroke-width="0.6"/><line x1="59.8" y1="43.8" x2="387.4" y2="273.2" stroke-width="0.9"/></g></g><rect x="73.50" y="16.20" width="305.50" height="240.80" fill="none" stroke="#000" stroke-width="1.5"/><g font-size="14.5" fill="#000" stroke="#000" stroke-width="0.15"><text x="61.10" y="262.00" text-anchor="end">-0.20</text><text x="61.10" y="231.90" text-anchor="end">-0.15</text><text x="61.10" y="201.80" text-anchor="end">-0.10</text><text x="61.10" y="171.70" text-anchor="end">-0.05</text><text x="61.10" y="141.60" text-anchor="end">0.00</text><text x="61.10" y="111.50" text-anchor="end">0.05</text><text x="61.10" y="81.40" text-anchor="end">0.10</text><text x="61.10" y="51.30" text-anchor="end">0.15</text><text x="61.10" y="21.20" text-anchor="end">0.20</text><text x="73.50" y="278.50" text-anchor="middle">0.9</text><text x="134.60" y="278.50" text-anchor="middle">1.0</text><text x="195.70" y="278.50" text-anchor="middle">1.1</text><text x="256.80" y="278.50" text-anchor="middle">1.2</text><text x="317.90" y="278.50" text-anchor="middle">1.3</text><text x="379.00" y="278.50" text-anchor="middle">1.4</text><text x="226.25" y="294.40" text-anchor="middle">Experimental density (g/cm<tspan baseline-shift="super" font-size="9">3</tspan>)</text><text transform="translate(15.7,136.60) rotate(-90)" text-anchor="middle">Density deviation by GC model</text><text transform="translate(32.5,136.60) rotate(-90)" text-anchor="middle">(g/cm<tspan baseline-shift="super" font-size="9">3</tspan>)</text></g><g stroke="#FF6060" stroke-width="0.9" fill="none"><rect x="86.4" y="29.0" width="5.2" height="5.2"/></g><g stroke="#4EC0F0" stroke-width="0.9" fill="none"><circle cx="89.0" cy="54.0" r="2.7"/></g><g font-size="14.4" fill="#000" stroke="#000" stroke-width="0.15"><text x="96.3" y="36.6">Test data set</text><text x="96.3" y="59.1">Trainning data set</text></g><g stroke="#000" stroke-width="1.5" fill="none"><line x1="453.40" y1="257.00" x2="457.40" y2="257.00"/><line x1="453.40" y1="208.84" x2="457.40" y2="208.84"/><line x1="453.40" y1="160.68" x2="457.40" y2="160.68"/><line x1="453.40" y1="112.52" x2="457.40" y2="112.52"/><line x1="453.40" y1="64.36" x2="457.40" y2="64.36"/><line x1="453.40" y1="16.20" x2="457.40" y2="16.20"/><line x1="457.40" y1="132.60" x2="457.40" y2="140.60"/><line x1="536.10" y1="132.60" x2="536.10" y2="140.60"/><line x1="614.80" y1="132.60" x2="614.80" y2="140.60"/><line x1="693.50" y1="132.60" x2="693.50" y2="140.60"/><line x1="772.20" y1="132.60" x2="772.20" y2="140.60"/><line x1="457.40" y1="136.60" x2="772.20" y2="136.60"/></g><g stroke="#FF1A1A" stroke-width="0.7" fill="none"><rect x="494.6" y="101.8" width="4.8" height="4.8"/><rect x="497.7" y="106.4" width="4.8" height="4.8"/><rect x="500.8" y="111.0" width="4.8" height="4.8"/><rect x="503.9" y="115.7" width="4.8" height="4.8"/><rect x="507.0" y="120.3" width="4.8" height="4.8"/><rect x="510.1" y="124.9" width="4.8" height="4.8"/><rect x="513.1" y="129.5" width="4.8" height="4.8"/><rect x="516.2" y="134.1" width="4.8" height="4.8"/><rect x="519.3" y="138.7" width="4.8" height="4.8"/><rect x="522.4" y="143.4" width="4.8" height="4.8"/><rect x="525.5" y="148.0" width="4.8" height="4.8"/><rect x="528.6" y="152.6" width="4.8" height="4.8"/><rect x="534.5" y="103.1" width="4.8" height="4.8"/><rect x="527.8" y="100.4" width="4.8" height="4.8"/><rect x="529.5" y="102.9" width="4.8" height="4.8"/><rect x="534.7" y="108.1" width="4.8" height="4.8"/><rect x="538.8" y="112.6" width="4.8" height="4.8"/><rect x="521.8" y="98.8" width="4.8" height="4.8"/><rect x="523.6" y="101.0" width="4.8" height="4.8"/><rect x="526.0" y="103.1" width="4.8" height="4.8"/><rect x="528.4" y="106.5" width="4.8" height="4.8"/><rect x="531.0" y="108.5" width="4.8" height="4.8"/><rect x="533.8" y="110.4" width="4.8" height="4.8"/><rect x="535.4" y="112.2" width="4.8" height="4.8"/><rect x="521.1" y="102.2" width="4.8" height="4.8"/><rect x="528.1" y="109.8" width="4.8" height="4.8"/><rect x="530.4" y="111.9" width="4.8" height="4.8"/><rect x="533.0" y="114.5" width="4.8" height="4.8"/><rect x="535.3" y="116.8" width="4.8" height="4.8"/><rect x="536.4" y="119.0" width="4.8" height="4.8"/><rect x="539.8" y="121.0" width="4.8" height="4.8"/><rect x="519.8" y="104.7" width="4.8" height="4.8"/><rect x="522.2" y="106.1" width="4.8" height="4.8"/><rect x="526.2" y="111.0" width="4.8" height="4.8"/><rect x="528.0" y="113.4" width="4.8" height="4.8"/><rect x="531.2" y="115.6" width="4.8" height="4.8"/><rect x="532.9" y="118.1" width="4.8" height="4.8"/><rect x="537.1" y="122.4" width="4.8" height="4.8"/><rect x="540.2" y="124.3" width="4.8" height="4.8"/><rect x="522.6" y="112.7" width="4.8" height="4.8"/><rect x="524.8" y="114.5" width="4.8" height="4.8"/><rect x="529.2" y="118.8" width="4.8" height="4.8"/><rect x="532.0" y="121.6" width="4.8" height="4.8"/><rect x="539.0" y="128.3" width="4.8" height="4.8"/><rect x="540.9" y="130.9" width="4.8" height="4.8"/><rect x="525.4" y="120.4" width="4.8" height="4.8"/><rect x="528.0" y="122.1" width="4.8" height="4.8"/><rect x="530.6" y="124.5" width="4.8" height="4.8"/><rect x="532.1" y="126.9" width="4.8" height="4.8"/><rect x="538.7" y="134.0" width="4.8" height="4.8"/><rect x="529.9" y="130.7" width="4.8" height="4.8"/><rect x="532.1" y="133.1" width="4.8" height="4.8"/><rect x="537.1" y="137.2" width="4.8" height="4.8"/><rect x="535.5" y="141.8" width="4.8" height="4.8"/><rect x="577.6" y="97.6" width="4.8" height="4.8"/><rect x="581.6" y="101.6" width="4.8" height="4.8"/><rect x="586.6" y="101.1" width="4.8" height="4.8"/><rect x="591.6" y="103.6" width="4.8" height="4.8"/><rect x="595.6" y="107.6" width="4.8" height="4.8"/><rect x="580.6" y="106.6" width="4.8" height="4.8"/><rect x="584.6" y="110.6" width="4.8" height="4.8"/><rect x="589.6" y="114.6" width="4.8" height="4.8"/><rect x="573.6" y="104.6" width="4.8" height="4.8"/><rect x="569.6" y="108.6" width="4.8" height="4.8"/><rect x="630.7" y="133.1" width="4.8" height="4.8"/><rect x="638.5" y="137.8" width="4.8" height="4.8"/><rect x="607.3" y="126.0" width="4.8" height="4.8"/><rect x="613.9" y="130.0" width="4.8" height="4.8"/><rect x="621.6" y="134.2" width="4.8" height="4.8"/><rect x="628.2" y="139.1" width="4.8" height="4.8"/><rect x="568.7" y="112.5" width="4.8" height="4.8"/><rect x="575.5" y="116.4" width="4.8" height="4.8"/><rect x="581.6" y="120.1" width="4.8" height="4.8"/><rect x="589.0" y="124.3" width="4.8" height="4.8"/><rect x="609.2" y="136.6" width="4.8" height="4.8"/><rect x="615.8" y="141.4" width="4.8" height="4.8"/><rect x="543.3" y="109.3" width="4.8" height="4.8"/><rect x="597.4" y="142.4" width="4.8" height="4.8"/><rect x="604.8" y="146.1" width="4.8" height="4.8"/><rect x="523.5" y="105.5" width="4.8" height="4.8"/><rect x="543.5" y="118.8" width="4.8" height="4.8"/><rect x="564.0" y="130.4" width="4.8" height="4.8"/><rect x="577.9" y="138.5" width="4.8" height="4.8"/><rect x="534.7" y="123.4" width="4.8" height="4.8"/><rect x="541.6" y="127.6" width="4.8" height="4.8"/><rect x="548.1" y="131.5" width="4.8" height="4.8"/><rect x="575.7" y="148.3" width="4.8" height="4.8"/><rect x="536.1" y="134.5" width="4.8" height="4.8"/><rect x="574.2" y="148.1" width="4.8" height="4.8"/><rect x="580.6" y="153.6" width="4.8" height="4.8"/><rect x="587.6" y="157.6" width="4.8" height="4.8"/><rect x="593.6" y="160.6" width="4.8" height="4.8"/><rect x="598.4" y="155.6" width="4.8" height="4.8"/><rect x="634.6" y="115.6" width="4.8" height="4.8"/><rect x="642.6" y="122.6" width="4.8" height="4.8"/><rect x="647.6" y="132.6" width="4.8" height="4.8"/><rect x="650.6" y="157.6" width="4.8" height="4.8"/><rect x="517.6" y="107.6" width="4.8" height="4.8"/><rect x="523.6" y="122.6" width="4.8" height="4.8"/><rect x="529.6" y="132.6" width="4.8" height="4.8"/><rect x="576.4" y="97.8" width="4.8" height="4.8"/><rect x="580.6" y="97.6" width="4.8" height="4.8"/><rect x="588.6" y="103.6" width="4.8" height="4.8"/><rect x="605.2" y="107.0" width="4.8" height="4.8"/><rect x="610.9" y="107.7" width="4.8" height="4.8"/><rect x="616.5" y="107.0" width="4.8" height="4.8"/><rect x="572.6" y="102.6" width="4.8" height="4.8"/><rect x="643.0" y="115.9" width="4.8" height="4.8"/><rect x="648.6" y="114.0" width="4.8" height="4.8"/><rect x="640.5" y="137.9" width="4.8" height="4.8"/><rect x="637.9" y="145.5" width="4.8" height="4.8"/><rect x="640.5" y="150.5" width="4.8" height="4.8"/><rect x="627.9" y="156.8" width="4.8" height="4.8"/><rect x="637.9" y="161.8" width="4.8" height="4.8"/><rect x="642.3" y="161.8" width="4.8" height="4.8"/><rect x="646.8" y="161.8" width="4.8" height="4.8"/><rect x="651.2" y="161.8" width="4.8" height="4.8"/><rect x="655.6" y="161.8" width="4.8" height="4.8"/><rect x="545.1" y="146.3" width="4.8" height="4.8"/><rect x="548.6" y="148.6" width="4.8" height="4.8"/><rect x="553.2" y="152.3" width="4.8" height="4.8"/><rect x="557.6" y="149.6" width="4.8" height="4.8"/><rect x="562.6" y="153.6" width="4.8" height="4.8"/><rect x="597.6" y="153.6" width="4.8" height="4.8"/><rect x="719.0" y="177.8" width="4.8" height="4.8"/><rect x="560.3" y="171.8" width="4.8" height="4.8"/><rect x="564.2" y="176.5" width="4.8" height="4.8"/><rect x="568.1" y="181.2" width="4.8" height="4.8"/><rect x="572.0" y="185.9" width="4.8" height="4.8"/><rect x="575.9" y="190.5" width="4.8" height="4.8"/><rect x="579.8" y="195.2" width="4.8" height="4.8"/><rect x="583.7" y="199.9" width="4.8" height="4.8"/><rect x="587.6" y="204.6" width="4.8" height="4.8"/><rect x="562.1" y="183.9" width="4.8" height="4.8"/><rect x="566.9" y="188.2" width="4.8" height="4.8"/><rect x="571.6" y="192.5" width="4.8" height="4.8"/><rect x="576.4" y="196.8" width="4.8" height="4.8"/><rect x="581.1" y="201.0" width="4.8" height="4.8"/><rect x="585.9" y="205.3" width="4.8" height="4.8"/><rect x="590.6" y="209.6" width="4.8" height="4.8"/></g><g stroke="#00AEEF" stroke-width="0.7" fill="none"><circle cx="475.3" cy="53.9" r="2.85"/><circle cx="478.4" cy="58.8" r="2.85"/><circle cx="481.6" cy="63.7" r="2.85"/><circle cx="484.7" cy="68.6" r="2.85"/><circle cx="487.9" cy="73.5" r="2.85"/><circle cx="491.0" cy="78.3" r="2.85"/><circle cx="494.1" cy="83.2" r="2.85"/><circle cx="497.3" cy="88.1" r="2.85"/><circle cx="500.4" cy="93.0" r="2.85"/><circle cx="503.6" cy="97.9" r="2.85"/><circle cx="506.7" cy="102.8" r="2.85"/><circle cx="484.5" cy="53.4" r="2.85"/><circle cx="487.7" cy="58.2" r="2.85"/><circle cx="490.9" cy="63.1" r="2.85"/><circle cx="494.1" cy="67.9" r="2.85"/><circle cx="497.3" cy="72.7" r="2.85"/><circle cx="500.5" cy="77.6" r="2.85"/><circle cx="503.7" cy="82.4" r="2.85"/><circle cx="506.9" cy="87.2" r="2.85"/><circle cx="510.1" cy="92.1" r="2.85"/><circle cx="513.3" cy="96.9" r="2.85"/><circle cx="510.6" cy="107.8" r="2.85"/><circle cx="514.5" cy="112.9" r="2.85"/><circle cx="518.4" cy="117.9" r="2.85"/><circle cx="522.2" cy="122.9" r="2.85"/><circle cx="526.1" cy="128.0" r="2.85"/><circle cx="530.0" cy="133.0" r="2.85"/><circle cx="517.1" cy="101.4" r="2.85"/><circle cx="520.9" cy="105.9" r="2.85"/><circle cx="524.6" cy="110.5" r="2.85"/><circle cx="528.4" cy="115.0" r="2.85"/><circle cx="532.2" cy="119.5" r="2.85"/><circle cx="536.0" cy="124.0" r="2.85"/><circle cx="520.3" cy="85.0" r="2.85"/><circle cx="521.7" cy="86.8" r="2.85"/><circle cx="523.1" cy="88.5" r="2.85"/><circle cx="524.6" cy="90.3" r="2.85"/><circle cx="526.0" cy="92.1" r="2.85"/><circle cx="527.4" cy="93.9" r="2.85"/><circle cx="528.8" cy="95.7" r="2.85"/><circle cx="530.3" cy="97.4" r="2.85"/><circle cx="531.7" cy="99.2" r="2.85"/><circle cx="533.1" cy="101.0" r="2.85"/><circle cx="534.5" cy="102.8" r="2.85"/><circle cx="536.0" cy="104.5" r="2.85"/><circle cx="537.4" cy="106.3" r="2.85"/><circle cx="522.0" cy="84.0" r="2.85"/><circle cx="524.0" cy="86.2" r="2.85"/><circle cx="526.0" cy="88.4" r="2.85"/><circle cx="528.0" cy="90.7" r="2.85"/><circle cx="530.0" cy="92.9" r="2.85"/><circle cx="532.0" cy="95.1" r="2.85"/><circle cx="534.0" cy="97.3" r="2.85"/><circle cx="536.0" cy="99.6" r="2.85"/><circle cx="538.0" cy="101.8" r="2.85"/><circle cx="540.0" cy="104.0" r="2.85"/><circle cx="549.5" cy="98.2" r="2.85"/><circle cx="551.5" cy="100.6" r="2.85"/><circle cx="553.5" cy="103.0" r="2.85"/><circle cx="555.6" cy="105.5" r="2.85"/><circle cx="557.6" cy="107.9" r="2.85"/><circle cx="559.6" cy="110.3" r="2.85"/><circle cx="499.5" cy="109.0" r="2.85"/><circle cx="502.9" cy="114.0" r="2.85"/><circle cx="506.3" cy="119.0" r="2.85"/><circle cx="509.7" cy="123.9" r="2.85"/><circle cx="513.1" cy="128.9" r="2.85"/><circle cx="516.5" cy="133.9" r="2.85"/><circle cx="519.8" cy="138.9" r="2.85"/><circle cx="523.2" cy="143.9" r="2.85"/><circle cx="526.6" cy="148.8" r="2.85"/><circle cx="530.0" cy="153.8" r="2.85"/><circle cx="533.4" cy="158.8" r="2.85"/><circle cx="530.0" cy="95.0" r="2.85"/><circle cx="536.9" cy="101.0" r="2.85"/><circle cx="543.8" cy="107.0" r="2.85"/><circle cx="547.3" cy="110.0" r="2.85"/><circle cx="550.7" cy="113.0" r="2.85"/><circle cx="554.2" cy="116.0" r="2.85"/><circle cx="557.6" cy="119.0" r="2.85"/><circle cx="561.1" cy="122.0" r="2.85"/><circle cx="564.5" cy="125.0" r="2.85"/><circle cx="568.0" cy="128.0" r="2.85"/><circle cx="555.6" cy="103.7" r="2.85"/><circle cx="558.9" cy="106.8" r="2.85"/><circle cx="562.1" cy="109.8" r="2.85"/><circle cx="565.4" cy="112.9" r="2.85"/><circle cx="568.7" cy="115.9" r="2.85"/><circle cx="572.0" cy="119.0" r="2.85"/><circle cx="538.0" cy="92.0" r="2.85"/><circle cx="541.7" cy="95.3" r="2.85"/><circle cx="545.3" cy="98.7" r="2.85"/><circle cx="549.0" cy="102.0" r="2.85"/><circle cx="552.7" cy="105.3" r="2.85"/><circle cx="556.3" cy="108.7" r="2.85"/><circle cx="560.0" cy="112.0" r="2.85"/><circle cx="563.0" cy="109.0" r="2.85"/><circle cx="567.0" cy="112.0" r="2.85"/><circle cx="571.0" cy="115.0" r="2.85"/><circle cx="575.0" cy="118.0" r="2.85"/><circle cx="603.0" cy="114.0" r="2.85"/><circle cx="608.0" cy="118.0" r="2.85"/><circle cx="612.0" cy="113.0" r="2.85"/><circle cx="618.0" cy="117.0" r="2.85"/><circle cx="623.0" cy="115.0" r="2.85"/><circle cx="626.0" cy="120.0" r="2.85"/><circle cx="615.0" cy="122.0" r="2.85"/><circle cx="606.0" cy="123.0" r="2.85"/><circle cx="596.0" cy="117.0" r="2.85"/><circle cx="586.0" cy="106.0" r="2.85"/><circle cx="590.0" cy="108.0" r="2.85"/><circle cx="636.0" cy="130.1" r="2.85"/><circle cx="638.9" cy="131.1" r="2.85"/><circle cx="626.9" cy="127.9" r="2.85"/><circle cx="629.3" cy="128.9" r="2.85"/><circle cx="631.4" cy="130.5" r="2.85"/><circle cx="638.4" cy="134.0" r="2.85"/><circle cx="645.0" cy="138.4" r="2.85"/><circle cx="619.5" cy="127.2" r="2.85"/><circle cx="621.9" cy="128.4" r="2.85"/><circle cx="626.7" cy="131.4" r="2.85"/><circle cx="629.4" cy="133.0" r="2.85"/><circle cx="635.6" cy="136.3" r="2.85"/><circle cx="640.5" cy="139.0" r="2.85"/><circle cx="613.8" cy="126.3" r="2.85"/><circle cx="616.6" cy="127.3" r="2.85"/><circle cx="618.1" cy="129.6" r="2.85"/><circle cx="620.4" cy="130.5" r="2.85"/><circle cx="624.6" cy="133.0" r="2.85"/><circle cx="629.2" cy="135.5" r="2.85"/><circle cx="634.1" cy="138.2" r="2.85"/><circle cx="635.9" cy="140.0" r="2.85"/><circle cx="600.5" cy="122.3" r="2.85"/><circle cx="602.8" cy="123.8" r="2.85"/><circle cx="607.1" cy="126.0" r="2.85"/><circle cx="609.6" cy="127.2" r="2.85"/><circle cx="611.4" cy="129.2" r="2.85"/><circle cx="613.9" cy="129.8" r="2.85"/><circle cx="615.8" cy="131.4" r="2.85"/><circle cx="617.9" cy="132.4" r="2.85"/><circle cx="620.6" cy="133.7" r="2.85"/><circle cx="624.6" cy="136.7" r="2.85"/><circle cx="626.8" cy="138.8" r="2.85"/><circle cx="629.1" cy="139.5" r="2.85"/><circle cx="631.9" cy="140.7" r="2.85"/><circle cx="633.5" cy="142.5" r="2.85"/><circle cx="638.2" cy="144.6" r="2.85"/><circle cx="595.5" cy="122.9" r="2.85"/><circle cx="598.5" cy="124.3" r="2.85"/><circle cx="600.8" cy="125.4" r="2.85"/><circle cx="602.4" cy="126.0" r="2.85"/><circle cx="605.3" cy="127.4" r="2.85"/><circle cx="606.5" cy="128.7" r="2.85"/><circle cx="608.9" cy="130.0" r="2.85"/><circle cx="611.6" cy="131.9" r="2.85"/><circle cx="613.4" cy="133.7" r="2.85"/><circle cx="618.3" cy="136.2" r="2.85"/><circle cx="620.0" cy="136.8" r="2.85"/><circle cx="623.0" cy="138.1" r="2.85"/><circle cx="626.6" cy="141.2" r="2.85"/><circle cx="629.7" cy="142.7" r="2.85"/><circle cx="631.8" cy="144.3" r="2.85"/><circle cx="633.9" cy="145.2" r="2.85"/><circle cx="577.9" cy="116.3" r="2.85"/><circle cx="583.2" cy="118.4" r="2.85"/><circle cx="584.9" cy="119.9" r="2.85"/><circle cx="591.7" cy="123.6" r="2.85"/><circle cx="594.0" cy="125.4" r="2.85"/><circle cx="596.1" cy="127.1" r="2.85"/><circle cx="602.4" cy="130.3" r="2.85"/><circle cx="605.3" cy="131.7" r="2.85"/><circle cx="607.1" cy="133.7" r="2.85"/><circle cx="611.3" cy="135.7" r="2.85"/><circle cx="614.1" cy="137.2" r="2.85"/><circle cx="616.4" cy="138.3" r="2.85"/><circle cx="618.3" cy="140.5" r="2.85"/><circle cx="620.5" cy="140.9" r="2.85"/><circle cx="625.7" cy="143.8" r="2.85"/><circle cx="627.8" cy="145.8" r="2.85"/><circle cx="630.1" cy="146.9" r="2.85"/><circle cx="563.9" cy="112.0" r="2.85"/><circle cx="576.1" cy="118.2" r="2.85"/><circle cx="577.5" cy="119.3" r="2.85"/><circle cx="580.6" cy="120.6" r="2.85"/><circle cx="581.9" cy="122.0" r="2.85"/><circle cx="584.8" cy="124.2" r="2.85"/><circle cx="587.1" cy="124.5" r="2.85"/><circle cx="589.5" cy="126.0" r="2.85"/><circle cx="591.2" cy="127.5" r="2.85"/><circle cx="595.2" cy="131.0" r="2.85"/><circle cx="598.5" cy="132.0" r="2.85"/><circle cx="606.8" cy="137.0" r="2.85"/><circle cx="608.9" cy="139.1" r="2.85"/><circle cx="610.8" cy="139.4" r="2.85"/><circle cx="613.3" cy="141.7" r="2.85"/><circle cx="618.5" cy="143.6" r="2.85"/><circle cx="622.2" cy="146.0" r="2.85"/><circle cx="624.9" cy="148.2" r="2.85"/><circle cx="626.8" cy="149.3" r="2.85"/><circle cx="552.7" cy="108.8" r="2.85"/><circle cx="559.1" cy="113.5" r="2.85"/><circle cx="563.6" cy="115.8" r="2.85"/><circle cx="566.6" cy="116.9" r="2.85"/><circle cx="570.5" cy="119.6" r="2.85"/><circle cx="577.1" cy="124.2" r="2.85"/><circle cx="583.7" cy="127.4" r="2.85"/><circle cx="588.8" cy="130.4" r="2.85"/><circle cx="590.2" cy="131.5" r="2.85"/><circle cx="592.4" cy="132.5" r="2.85"/><circle cx="594.8" cy="133.8" r="2.85"/><circle cx="601.7" cy="138.6" r="2.85"/><circle cx="604.4" cy="139.5" r="2.85"/><circle cx="606.7" cy="140.8" r="2.85"/><circle cx="608.8" cy="142.5" r="2.85"/><circle cx="610.1" cy="143.5" r="2.85"/><circle cx="613.3" cy="144.7" r="2.85"/><circle cx="615.0" cy="146.4" r="2.85"/><circle cx="617.5" cy="147.9" r="2.85"/><circle cx="546.9" cy="109.0" r="2.85"/><circle cx="552.7" cy="112.9" r="2.85"/><circle cx="559.3" cy="118.0" r="2.85"/><circle cx="561.7" cy="118.4" r="2.85"/><circle cx="566.9" cy="121.0" r="2.85"/><circle cx="568.6" cy="122.4" r="2.85"/><circle cx="570.6" cy="124.4" r="2.85"/><circle cx="572.7" cy="125.2" r="2.85"/><circle cx="577.3" cy="128.4" r="2.85"/><circle cx="579.4" cy="129.8" r="2.85"/><circle cx="582.1" cy="131.0" r="2.85"/><circle cx="587.0" cy="133.5" r="2.85"/><circle cx="593.0" cy="138.1" r="2.85"/><circle cx="595.1" cy="139.1" r="2.85"/><circle cx="598.0" cy="140.3" r="2.85"/><circle cx="599.9" cy="142.0" r="2.85"/><circle cx="602.2" cy="143.3" r="2.85"/><circle cx="613.7" cy="149.9" r="2.85"/><circle cx="617.6" cy="152.2" r="2.85"/><circle cx="535.7" cy="106.5" r="2.85"/><circle cx="539.7" cy="109.9" r="2.85"/><circle cx="544.2" cy="112.1" r="2.85"/><circle cx="555.5" cy="119.0" r="2.85"/><circle cx="562.4" cy="122.9" r="2.85"/><circle cx="565.0" cy="123.8" r="2.85"/><circle cx="567.0" cy="125.3" r="2.85"/><circle cx="568.7" cy="126.9" r="2.85"/><circle cx="574.0" cy="129.7" r="2.85"/><circle cx="578.5" cy="131.7" r="2.85"/><circle cx="580.8" cy="133.7" r="2.85"/><circle cx="582.8" cy="134.3" r="2.85"/><circle cx="584.9" cy="136.2" r="2.85"/><circle cx="588.7" cy="138.2" r="2.85"/><circle cx="591.7" cy="140.0" r="2.85"/><circle cx="594.2" cy="141.6" r="2.85"/><circle cx="596.1" cy="142.2" r="2.85"/><circle cx="598.3" cy="143.7" r="2.85"/><circle cx="602.1" cy="147.2" r="2.85"/><circle cx="606.8" cy="149.1" r="2.85"/><circle cx="609.6" cy="150.6" r="2.85"/><circle cx="611.4" cy="151.7" r="2.85"/><circle cx="613.8" cy="153.5" r="2.85"/><circle cx="615.7" cy="154.3" r="2.85"/><circle cx="527.5" cy="104.5" r="2.85"/><circle cx="529.2" cy="106.3" r="2.85"/><circle cx="531.7" cy="107.6" r="2.85"/><circle cx="534.1" cy="108.4" r="2.85"/><circle cx="536.8" cy="109.6" r="2.85"/><circle cx="541.2" cy="112.9" r="2.85"/><circle cx="543.2" cy="113.5" r="2.85"/><circle cx="545.0" cy="114.8" r="2.85"/><circle cx="549.1" cy="118.3" r="2.85"/><circle cx="551.4" cy="119.4" r="2.85"/><circle cx="554.5" cy="120.4" r="2.85"/><circle cx="555.9" cy="122.0" r="2.85"/><circle cx="559.2" cy="122.5" r="2.85"/><circle cx="561.0" cy="124.9" r="2.85"/><circle cx="563.3" cy="125.8" r="2.85"/><circle cx="565.2" cy="127.2" r="2.85"/><circle cx="569.7" cy="129.5" r="2.85"/><circle cx="574.2" cy="132.1" r="2.85"/><circle cx="575.9" cy="133.5" r="2.85"/><circle cx="578.8" cy="134.8" r="2.85"/><circle cx="580.4" cy="136.1" r="2.85"/><circle cx="582.8" cy="138.3" r="2.85"/><circle cx="585.2" cy="139.1" r="2.85"/><circle cx="587.9" cy="140.8" r="2.85"/><circle cx="590.1" cy="141.6" r="2.85"/><circle cx="591.7" cy="142.8" r="2.85"/><circle cx="594.4" cy="144.8" r="2.85"/><circle cx="596.8" cy="145.8" r="2.85"/><circle cx="598.7" cy="147.1" r="2.85"/><circle cx="525.9" cy="108.4" r="2.85"/><circle cx="528.2" cy="109.0" r="2.85"/><circle cx="530.7" cy="110.5" r="2.85"/><circle cx="535.4" cy="113.7" r="2.85"/><circle cx="537.0" cy="114.3" r="2.85"/><circle cx="541.9" cy="116.9" r="2.85"/><circle cx="543.5" cy="119.2" r="2.85"/><circle cx="546.0" cy="120.5" r="2.85"/><circle cx="550.2" cy="123.2" r="2.85"/><circle cx="552.8" cy="124.2" r="2.85"/><circle cx="554.9" cy="124.9" r="2.85"/><circle cx="556.8" cy="127.1" r="2.85"/><circle cx="559.2" cy="127.8" r="2.85"/><circle cx="561.6" cy="129.4" r="2.85"/><circle cx="563.9" cy="130.5" r="2.85"/><circle cx="568.5" cy="132.9" r="2.85"/><circle cx="571.2" cy="134.7" r="2.85"/><circle cx="573.0" cy="136.5" r="2.85"/><circle cx="575.1" cy="137.2" r="2.85"/><circle cx="577.5" cy="138.7" r="2.85"/><circle cx="581.6" cy="142.0" r="2.85"/><circle cx="586.1" cy="143.6" r="2.85"/><circle cx="591.4" cy="146.2" r="2.85"/><circle cx="592.6" cy="148.4" r="2.85"/><circle cx="597.7" cy="151.2" r="2.85"/><circle cx="599.3" cy="152.6" r="2.85"/><circle cx="601.5" cy="153.8" r="2.85"/><circle cx="604.4" cy="154.2" r="2.85"/><circle cx="606.7" cy="155.6" r="2.85"/><circle cx="525.8" cy="110.3" r="2.85"/><circle cx="528.8" cy="111.9" r="2.85"/><circle cx="530.6" cy="113.5" r="2.85"/><circle cx="537.5" cy="117.4" r="2.85"/><circle cx="540.0" cy="118.6" r="2.85"/><circle cx="541.2" cy="119.8" r="2.85"/><circle cx="543.7" cy="121.9" r="2.85"/><circle cx="546.1" cy="122.9" r="2.85"/><circle cx="548.5" cy="124.0" r="2.85"/><circle cx="550.6" cy="125.7" r="2.85"/><circle cx="554.5" cy="128.0" r="2.85"/><circle cx="557.5" cy="129.0" r="2.85"/><circle cx="559.1" cy="130.8" r="2.85"/><circle cx="561.1" cy="131.6" r="2.85"/><circle cx="564.5" cy="133.3" r="2.85"/><circle cx="568.6" cy="135.4" r="2.85"/><circle cx="572.7" cy="138.5" r="2.85"/><circle cx="577.4" cy="141.2" r="2.85"/><circle cx="579.6" cy="142.6" r="2.85"/><circle cx="581.6" cy="143.5" r="2.85"/><circle cx="590.4" cy="150.0" r="2.85"/><circle cx="595.6" cy="152.2" r="2.85"/><circle cx="597.3" cy="153.7" r="2.85"/><circle cx="524.4" cy="113.4" r="2.85"/><circle cx="527.2" cy="114.0" r="2.85"/><circle cx="538.5" cy="121.6" r="2.85"/><circle cx="539.8" cy="122.8" r="2.85"/><circle cx="547.1" cy="126.5" r="2.85"/><circle cx="549.0" cy="128.1" r="2.85"/><circle cx="553.9" cy="130.4" r="2.85"/><circle cx="557.7" cy="133.6" r="2.85"/><circle cx="560.1" cy="134.7" r="2.85"/><circle cx="568.6" cy="140.3" r="2.85"/><circle cx="571.5" cy="141.1" r="2.85"/><circle cx="573.2" cy="142.7" r="2.85"/><circle cx="576.4" cy="144.4" r="2.85"/><circle cx="578.4" cy="145.2" r="2.85"/><circle cx="584.2" cy="149.4" r="2.85"/><circle cx="591.3" cy="153.8" r="2.85"/><circle cx="593.2" cy="155.3" r="2.85"/><circle cx="595.6" cy="156.4" r="2.85"/><circle cx="524.6" cy="115.9" r="2.85"/><circle cx="528.6" cy="118.6" r="2.85"/><circle cx="532.5" cy="122.1" r="2.85"/><circle cx="535.7" cy="122.8" r="2.85"/><circle cx="537.1" cy="124.5" r="2.85"/><circle cx="542.4" cy="127.4" r="2.85"/><circle cx="544.7" cy="128.6" r="2.85"/><circle cx="546.4" cy="129.1" r="2.85"/><circle cx="548.4" cy="131.0" r="2.85"/><circle cx="555.9" cy="134.8" r="2.85"/><circle cx="559.7" cy="137.8" r="2.85"/><circle cx="563.8" cy="140.9" r="2.85"/><circle cx="569.1" cy="143.6" r="2.85"/><circle cx="572.7" cy="146.2" r="2.85"/><circle cx="574.9" cy="147.6" r="2.85"/><circle cx="577.1" cy="148.1" r="2.85"/><circle cx="584.6" cy="152.3" r="2.85"/><circle cx="586.2" cy="153.8" r="2.85"/><circle cx="589.1" cy="154.9" r="2.85"/><circle cx="591.1" cy="156.6" r="2.85"/><circle cx="529.4" cy="124.3" r="2.85"/><circle cx="531.9" cy="125.0" r="2.85"/><circle cx="537.1" cy="127.3" r="2.85"/><circle cx="540.8" cy="130.7" r="2.85"/><circle cx="543.1" cy="132.1" r="2.85"/><circle cx="545.6" cy="132.7" r="2.85"/><circle cx="547.7" cy="134.4" r="2.85"/><circle cx="554.3" cy="137.9" r="2.85"/><circle cx="556.9" cy="139.4" r="2.85"/><circle cx="561.7" cy="142.8" r="2.85"/><circle cx="563.5" cy="143.5" r="2.85"/><circle cx="565.8" cy="145.2" r="2.85"/><circle cx="570.6" cy="147.2" r="2.85"/><circle cx="574.6" cy="149.9" r="2.85"/><circle cx="576.2" cy="152.2" r="2.85"/><circle cx="579.5" cy="153.6" r="2.85"/><circle cx="583.0" cy="155.3" r="2.85"/><circle cx="586.1" cy="156.8" r="2.85"/><circle cx="529.7" cy="126.6" r="2.85"/><circle cx="532.0" cy="127.5" r="2.85"/><circle cx="534.1" cy="129.5" r="2.85"/><circle cx="536.0" cy="130.8" r="2.85"/><circle cx="538.0" cy="132.0" r="2.85"/><circle cx="545.0" cy="135.7" r="2.85"/><circle cx="551.6" cy="139.9" r="2.85"/><circle cx="555.8" cy="142.9" r="2.85"/><circle cx="558.8" cy="143.3" r="2.85"/><circle cx="560.1" cy="144.6" r="2.85"/><circle cx="562.6" cy="146.4" r="2.85"/><circle cx="571.2" cy="151.3" r="2.85"/><circle cx="573.8" cy="153.5" r="2.85"/><circle cx="575.9" cy="154.8" r="2.85"/><circle cx="531.3" cy="131.4" r="2.85"/><circle cx="533.6" cy="132.9" r="2.85"/><circle cx="535.6" cy="133.5" r="2.85"/><circle cx="540.7" cy="136.1" r="2.85"/><circle cx="542.4" cy="137.7" r="2.85"/><circle cx="544.4" cy="139.1" r="2.85"/><circle cx="547.4" cy="140.9" r="2.85"/><circle cx="549.6" cy="141.6" r="2.85"/><circle cx="551.8" cy="142.6" r="2.85"/><circle cx="553.9" cy="144.1" r="2.85"/><circle cx="556.5" cy="145.7" r="2.85"/><circle cx="558.1" cy="147.2" r="2.85"/><circle cx="560.4" cy="148.3" r="2.85"/><circle cx="562.8" cy="150.0" r="2.85"/><circle cx="532.5" cy="135.3" r="2.85"/><circle cx="538.6" cy="139.1" r="2.85"/><circle cx="541.5" cy="140.1" r="2.85"/><circle cx="545.3" cy="142.2" r="2.85"/><circle cx="550.5" cy="145.7" r="2.85"/><circle cx="557.1" cy="149.9" r="2.85"/><circle cx="558.4" cy="150.6" r="2.85"/><circle cx="560.9" cy="152.2" r="2.85"/><circle cx="541.6" cy="143.4" r="2.85"/><circle cx="543.7" cy="144.5" r="2.85"/><circle cx="545.8" cy="146.5" r="2.85"/><circle cx="550.6" cy="148.4" r="2.85"/><circle cx="607.6" cy="116.4" r="2.85"/><circle cx="624.0" cy="116.4" r="2.85"/><circle cx="612.0" cy="119.0" r="2.85"/><circle cx="636.6" cy="121.4" r="2.85"/><circle cx="639.9" cy="122.3" r="2.85"/><circle cx="643.3" cy="123.2" r="2.85"/><circle cx="646.6" cy="124.1" r="2.85"/><circle cx="649.9" cy="125.0" r="2.85"/><circle cx="653.2" cy="125.8" r="2.85"/><circle cx="656.6" cy="126.7" r="2.85"/><circle cx="659.9" cy="127.6" r="2.85"/><circle cx="663.2" cy="128.5" r="2.85"/><circle cx="666.6" cy="129.4" r="2.85"/><circle cx="669.9" cy="130.3" r="2.85"/><circle cx="673.2" cy="131.2" r="2.85"/><circle cx="676.6" cy="132.1" r="2.85"/><circle cx="679.9" cy="132.9" r="2.85"/><circle cx="683.2" cy="133.8" r="2.85"/><circle cx="686.5" cy="134.7" r="2.85"/><circle cx="689.9" cy="135.6" r="2.85"/><circle cx="693.2" cy="136.5" r="2.85"/><circle cx="640.0" cy="125.0" r="2.85"/><circle cx="643.8" cy="126.0" r="2.85"/><circle cx="647.7" cy="127.0" r="2.85"/><circle cx="651.5" cy="128.0" r="2.85"/><circle cx="655.4" cy="129.0" r="2.85"/><circle cx="659.2" cy="130.0" r="2.85"/><circle cx="663.1" cy="131.0" r="2.85"/><circle cx="666.9" cy="132.0" r="2.85"/><circle cx="670.8" cy="133.0" r="2.85"/><circle cx="674.6" cy="134.0" r="2.85"/><circle cx="678.5" cy="135.0" r="2.85"/><circle cx="682.3" cy="136.0" r="2.85"/><circle cx="686.2" cy="137.0" r="2.85"/><circle cx="690.0" cy="138.0" r="2.85"/><circle cx="655.5" cy="126.4" r="2.85"/><circle cx="658.9" cy="128.5" r="2.85"/><circle cx="662.2" cy="130.6" r="2.85"/><circle cx="665.6" cy="132.7" r="2.85"/><circle cx="668.9" cy="134.8" r="2.85"/><circle cx="672.3" cy="136.9" r="2.85"/><circle cx="675.6" cy="139.0" r="2.85"/><circle cx="679.0" cy="141.1" r="2.85"/><circle cx="682.3" cy="143.2" r="2.85"/><circle cx="685.7" cy="145.3" r="2.85"/><circle cx="658.0" cy="130.0" r="2.85"/><circle cx="661.8" cy="132.0" r="2.85"/><circle cx="665.5" cy="134.0" r="2.85"/><circle cx="669.2" cy="136.0" r="2.85"/><circle cx="673.0" cy="138.0" r="2.85"/><circle cx="676.8" cy="140.0" r="2.85"/><circle cx="680.5" cy="142.0" r="2.85"/><circle cx="684.2" cy="144.0" r="2.85"/><circle cx="688.0" cy="146.0" r="2.85"/><circle cx="607.6" cy="144.1" r="2.85"/><circle cx="610.1" cy="149.1" r="2.85"/><circle cx="612.7" cy="154.2" r="2.85"/><circle cx="615.2" cy="159.2" r="2.85"/><circle cx="632.8" cy="146.6" r="2.85"/><circle cx="636.3" cy="148.4" r="2.85"/><circle cx="639.8" cy="150.2" r="2.85"/><circle cx="643.3" cy="152.1" r="2.85"/><circle cx="646.8" cy="153.9" r="2.85"/><circle cx="650.3" cy="155.7" r="2.85"/><circle cx="653.8" cy="157.5" r="2.85"/><circle cx="657.3" cy="159.4" r="2.85"/><circle cx="660.8" cy="161.2" r="2.85"/><circle cx="664.3" cy="163.0" r="2.85"/><circle cx="628.0" cy="150.0" r="2.85"/><circle cx="632.0" cy="151.9" r="2.85"/><circle cx="636.0" cy="153.8" r="2.85"/><circle cx="640.0" cy="155.6" r="2.85"/><circle cx="644.0" cy="157.5" r="2.85"/><circle cx="648.0" cy="159.4" r="2.85"/><circle cx="652.0" cy="161.2" r="2.85"/><circle cx="656.0" cy="163.1" r="2.85"/><circle cx="660.0" cy="165.0" r="2.85"/><circle cx="664.6" cy="102.9" r="2.85"/><circle cx="668.0" cy="102.5" r="2.85"/><circle cx="671.4" cy="101.8" r="2.85"/><circle cx="674.7" cy="100.9" r="2.85"/><circle cx="678.0" cy="99.5" r="2.85"/><circle cx="681.4" cy="97.7" r="2.85"/><circle cx="684.7" cy="95.4" r="2.85"/><circle cx="688.0" cy="92.7" r="2.85"/><circle cx="690.7" cy="89.3" r="2.85"/><circle cx="670.3" cy="119.9" r="2.85"/><circle cx="673.0" cy="118.7" r="2.85"/><circle cx="675.7" cy="117.5" r="2.85"/><circle cx="678.5" cy="116.0" r="2.85"/><circle cx="681.2" cy="114.5" r="2.85"/><circle cx="684.0" cy="113.0" r="2.85"/><circle cx="686.7" cy="111.3" r="2.85"/><circle cx="689.0" cy="109.5" r="2.85"/><circle cx="690.7" cy="108.5" r="2.85"/><circle cx="758.7" cy="112.6" r="2.85"/><circle cx="727.4" cy="139.8" r="2.85"/><circle cx="708.8" cy="148.9" r="2.85"/><circle cx="680.6" cy="168.7" r="2.85"/><circle cx="677.5" cy="185.7" r="2.85"/><circle cx="697.8" cy="184.8" r="2.85"/><circle cx="602.7" cy="175.9" r="2.85"/><circle cx="565.7" cy="188.7" r="2.85"/><circle cx="570.5" cy="192.5" r="2.85"/><circle cx="575.3" cy="196.3" r="2.85"/><circle cx="580.0" cy="200.1" r="2.85"/><circle cx="584.8" cy="203.8" r="2.85"/><circle cx="589.6" cy="207.6" r="2.85"/><circle cx="594.4" cy="211.4" r="2.85"/><circle cx="566.7" cy="156.6" r="2.85"/><circle cx="570.3" cy="161.0" r="2.85"/><circle cx="574.0" cy="165.4" r="2.85"/><circle cx="577.6" cy="169.9" r="2.85"/><circle cx="581.3" cy="174.3" r="2.85"/><circle cx="584.9" cy="178.7" r="2.85"/><circle cx="596.0" cy="171.2" r="2.85"/><circle cx="682.1" cy="237.1" r="2.85"/><circle cx="688.7" cy="241.6" r="2.85"/><circle cx="695.7" cy="247.3" r="2.85"/><circle cx="701.7" cy="249.8" r="2.85"/><circle cx="706.9" cy="251.6" r="2.85"/><circle cx="712.9" cy="253.4" r="2.85"/><circle cx="719.0" cy="255.2" r="2.85"/></g><clipPath id="clip_c2_0"><polygon points="544.3,114.3 566.5,112.2 584.6,120.3 604.8,130.4 612.8,138.4 608.8,146.5 590.7,143.5 570.5,143.5 550.4,139.5 540.3,130.4"/></clipPath><g clip-path="url(#clip_c2_0)"><polygon points="544.3,114.3 566.5,112.2 584.6,120.3 604.8,130.4 612.8,138.4 608.8,146.5 590.7,143.5 570.5,143.5 550.4,139.5 540.3,130.4" fill="#12ACEA" fill-opacity="0.85"/><g stroke="#fff" stroke-opacity="0.5"><line x1="410.3" y1="17.8" x2="753.3" y2="223.6" stroke-width="0.7"/><line x1="407.1" y1="23.1" x2="750.1" y2="228.9" stroke-width="1.2"/><line x1="402.4" y1="30.8" x2="745.4" y2="236.6" stroke-width="1.1"/><line x1="397.9" y1="38.4" x2="740.9" y2="244.2" stroke-width="0.8"/></g></g><rect x="457.40" y="16.20" width="314.80" height="240.80" fill="none" stroke="#000" stroke-width="1.5"/><g font-size="14.5" fill="#000" stroke="#000" stroke-width="0.15"><text x="445.00" y="262.00" text-anchor="end">-0.05</text><text x="445.00" y="213.84" text-anchor="end">-0.03</text><text x="445.00" y="165.68" text-anchor="end">-0.01</text><text x="445.00" y="117.52" text-anchor="end">0.01</text><text x="445.00" y="69.36" text-anchor="end">0.03</text><text x="445.00" y="21.20" text-anchor="end">0.05</text><text x="457.40" y="278.50" text-anchor="middle">1.40</text><text x="536.10" y="278.50" text-anchor="middle">1.45</text><text x="614.80" y="278.50" text-anchor="middle">1.50</text><text x="693.50" y="278.50" text-anchor="middle">1.55</text><text x="772.20" y="278.50" text-anchor="middle">1.60</text><text x="614.80" y="294.40" text-anchor="middle">Experimental refractive index</text><text transform="translate(412,136.60) rotate(-90)" text-anchor="middle">Refractive index deviation by GC</text><text transform="translate(428.7,136.60) rotate(-90)" text-anchor="middle">model</text></g><g stroke="#FF6060" stroke-width="0.9" fill="none"><rect x="466.9" y="225.7" width="5.2" height="5.2"/></g><g stroke="#4EC0F0" stroke-width="0.9" fill="none"><circle cx="469.5" cy="244.9" r="2.7"/></g><g font-size="14.4" fill="#000" stroke="#000" stroke-width="0.15"><text x="476.8" y="233.29999999999998">Test data set</text><text x="476.8" y="250.0">Trainning data set</text></g><g stroke="#000" stroke-width="1.5" fill="none"><line x1="248.90" y1="553.10" x2="252.90" y2="553.10"/><line x1="248.90" y1="513.25" x2="252.90" y2="513.25"/><line x1="248.90" y1="473.40" x2="252.90" y2="473.40"/><line x1="248.90" y1="433.55" x2="252.90" y2="433.55"/><line x1="248.90" y1="393.70" x2="252.90" y2="393.70"/><line x1="248.90" y1="353.85" x2="252.90" y2="353.85"/><line x1="248.90" y1="314.00" x2="252.90" y2="314.00"/><line x1="252.90" y1="429.55" x2="252.90" y2="437.55"/><line x1="317.56" y1="429.55" x2="317.56" y2="437.55"/><line x1="382.22" y1="429.55" x2="382.22" y2="437.55"/><line x1="446.88" y1="429.55" x2="446.88" y2="437.55"/><line x1="511.54" y1="429.55" x2="511.54" y2="437.55"/><line x1="576.20" y1="429.55" x2="576.20" y2="437.55"/><line x1="252.90" y1="433.55" x2="576.20" y2="433.55"/></g><g stroke="#FF1A1A" stroke-width="0.7" fill="none"><rect x="289.6" y="444.6" width="4.8" height="4.8"/><rect x="290.0" y="442.3" width="4.8" height="4.8"/><rect x="290.5" y="439.9" width="4.8" height="4.8"/><rect x="290.9" y="437.6" width="4.8" height="4.8"/><rect x="291.4" y="435.3" width="4.8" height="4.8"/><rect x="291.8" y="432.9" width="4.8" height="4.8"/><rect x="292.3" y="430.6" width="4.8" height="4.8"/><rect x="292.7" y="428.3" width="4.8" height="4.8"/><rect x="293.2" y="425.9" width="4.8" height="4.8"/><rect x="293.6" y="423.6" width="4.8" height="4.8"/><rect x="292.6" y="442.6" width="4.8" height="4.8"/><rect x="293.2" y="440.0" width="4.8" height="4.8"/><rect x="293.7" y="437.5" width="4.8" height="4.8"/><rect x="294.3" y="434.9" width="4.8" height="4.8"/><rect x="294.9" y="432.3" width="4.8" height="4.8"/><rect x="295.5" y="429.7" width="4.8" height="4.8"/><rect x="296.0" y="427.2" width="4.8" height="4.8"/><rect x="296.6" y="424.6" width="4.8" height="4.8"/><rect x="289.6" y="447.0" width="4.8" height="4.8"/><rect x="288.6" y="438.6" width="4.8" height="4.8"/><rect x="352.6" y="451.7" width="4.8" height="4.8"/><rect x="353.5" y="449.6" width="4.8" height="4.8"/><rect x="354.4" y="447.4" width="4.8" height="4.8"/><rect x="355.3" y="445.3" width="4.8" height="4.8"/><rect x="356.2" y="443.1" width="4.8" height="4.8"/><rect x="357.1" y="441.0" width="4.8" height="4.8"/><rect x="358.1" y="438.8" width="4.8" height="4.8"/><rect x="359.0" y="436.7" width="4.8" height="4.8"/><rect x="359.9" y="434.5" width="4.8" height="4.8"/><rect x="360.8" y="432.4" width="4.8" height="4.8"/><rect x="361.7" y="430.2" width="4.8" height="4.8"/><rect x="362.6" y="428.1" width="4.8" height="4.8"/><rect x="355.6" y="449.6" width="4.8" height="4.8"/><rect x="356.8" y="446.9" width="4.8" height="4.8"/><rect x="358.0" y="444.3" width="4.8" height="4.8"/><rect x="359.3" y="441.6" width="4.8" height="4.8"/><rect x="360.5" y="438.9" width="4.8" height="4.8"/><rect x="361.7" y="436.3" width="4.8" height="4.8"/><rect x="362.9" y="433.6" width="4.8" height="4.8"/><rect x="364.2" y="430.9" width="4.8" height="4.8"/><rect x="365.4" y="428.3" width="4.8" height="4.8"/><rect x="366.6" y="425.6" width="4.8" height="4.8"/><rect x="366.5" y="343.0" width="4.8" height="4.8"/><rect x="368.6" y="350.8" width="4.8" height="4.8"/><rect x="370.6" y="360.3" width="4.8" height="4.8"/><rect x="372.7" y="371.4" width="4.8" height="4.8"/><rect x="375.5" y="384.4" width="4.8" height="4.8"/><rect x="377.6" y="395.5" width="4.8" height="4.8"/><rect x="380.1" y="407.6" width="4.8" height="4.8"/><rect x="381.9" y="417.7" width="4.8" height="4.8"/><rect x="384.4" y="431.3" width="4.8" height="4.8"/><rect x="396.2" y="449.6" width="4.8" height="4.8"/><rect x="395.7" y="453.1" width="4.8" height="4.8"/><rect x="395.2" y="456.6" width="4.8" height="4.8"/><rect x="394.6" y="460.1" width="4.8" height="4.8"/><rect x="394.1" y="463.6" width="4.8" height="4.8"/></g><g stroke="#00AEEF" stroke-width="0.7" fill="none"><circle cx="291.5" cy="410.9" r="2.85"/><circle cx="281.2" cy="437.3" r="2.85"/><circle cx="283.2" cy="434.5" r="2.85"/><circle cx="285.2" cy="431.8" r="2.85"/><circle cx="287.3" cy="429.0" r="2.85"/><circle cx="289.3" cy="426.2" r="2.85"/><circle cx="291.6" cy="423.4" r="2.85"/><circle cx="293.8" cy="420.7" r="2.85"/><circle cx="295.1" cy="423.6" r="2.85"/><circle cx="296.3" cy="426.6" r="2.85"/><circle cx="297.6" cy="429.6" r="2.85"/><circle cx="298.9" cy="432.5" r="2.85"/><circle cx="300.1" cy="435.4" r="2.85"/><circle cx="301.4" cy="438.4" r="2.85"/><circle cx="302.6" cy="441.4" r="2.85"/><circle cx="303.9" cy="444.3" r="2.85"/><circle cx="279.0" cy="430.0" r="2.85"/><circle cx="286.0" cy="440.0" r="2.85"/><circle cx="297.3" cy="458.4" r="2.85"/><circle cx="299.5" cy="457.2" r="2.85"/><circle cx="301.7" cy="456.0" r="2.85"/><circle cx="304.0" cy="454.8" r="2.85"/><circle cx="306.2" cy="453.6" r="2.85"/><circle cx="308.4" cy="452.4" r="2.85"/><circle cx="302.4" cy="450.4" r="2.85"/><circle cx="300.0" cy="458.6" r="2.85"/><circle cx="306.7" cy="430.5" r="2.85"/><circle cx="308.4" cy="433.5" r="2.85"/><circle cx="310.1" cy="436.5" r="2.85"/><circle cx="311.8" cy="439.5" r="2.85"/><circle cx="313.4" cy="442.5" r="2.85"/><circle cx="315.1" cy="445.5" r="2.85"/><circle cx="316.8" cy="448.5" r="2.85"/><circle cx="312.3" cy="433.9" r="2.85"/><circle cx="312.9" cy="431.1" r="2.85"/><circle cx="313.5" cy="428.3" r="2.85"/><circle cx="314.0" cy="425.5" r="2.85"/><circle cx="314.6" cy="422.7" r="2.85"/><circle cx="315.5" cy="419.9" r="2.85"/><circle cx="316.3" cy="417.0" r="2.85"/><circle cx="317.1" cy="414.2" r="2.85"/><circle cx="318.0" cy="411.4" r="2.85"/><circle cx="319.1" cy="409.2" r="2.85"/><circle cx="320.2" cy="406.9" r="2.85"/><circle cx="321.4" cy="404.7" r="2.85"/><circle cx="322.5" cy="402.5" r="2.85"/><circle cx="323.3" cy="399.7" r="2.85"/><circle cx="324.1" cy="396.9" r="2.85"/><circle cx="325.0" cy="394.0" r="2.85"/><circle cx="325.8" cy="391.2" r="2.85"/><circle cx="327.7" cy="392.0" r="2.85"/><circle cx="329.5" cy="392.7" r="2.85"/><circle cx="331.4" cy="393.5" r="2.85"/><circle cx="316.8" cy="440.6" r="2.85"/><circle cx="318.1" cy="438.2" r="2.85"/><circle cx="319.3" cy="435.8" r="2.85"/><circle cx="320.6" cy="433.4" r="2.85"/><circle cx="321.9" cy="431.1" r="2.85"/><circle cx="323.1" cy="428.7" r="2.85"/><circle cx="324.4" cy="426.3" r="2.85"/><circle cx="325.6" cy="423.9" r="2.85"/><circle cx="326.9" cy="421.5" r="2.85"/><circle cx="328.1" cy="445.1" r="2.85"/><circle cx="329.3" cy="442.6" r="2.85"/><circle cx="330.6" cy="440.2" r="2.85"/><circle cx="331.8" cy="437.7" r="2.85"/><circle cx="333.0" cy="435.2" r="2.85"/><circle cx="334.2" cy="432.8" r="2.85"/><circle cx="335.5" cy="430.3" r="2.85"/><circle cx="336.7" cy="427.8" r="2.85"/><circle cx="337.9" cy="425.3" r="2.85"/><circle cx="339.2" cy="422.9" r="2.85"/><circle cx="340.4" cy="420.4" r="2.85"/><circle cx="341.8" cy="423.0" r="2.85"/><circle cx="343.3" cy="425.5" r="2.85"/><circle cx="344.7" cy="428.1" r="2.85"/><circle cx="346.2" cy="430.7" r="2.85"/><circle cx="347.6" cy="433.3" r="2.85"/><circle cx="349.1" cy="435.8" r="2.85"/><circle cx="350.5" cy="438.4" r="2.85"/><circle cx="328.6" cy="489.8" r="2.85"/><circle cx="329.2" cy="486.0" r="2.85"/><circle cx="329.8" cy="482.5" r="2.85"/><circle cx="330.6" cy="479.0" r="2.85"/><circle cx="331.6" cy="475.2" r="2.85"/><circle cx="332.8" cy="471.5" r="2.85"/><circle cx="334.6" cy="468.5" r="2.85"/><circle cx="336.3" cy="466.8" r="2.85"/><circle cx="338.1" cy="466.1" r="2.85"/><circle cx="339.6" cy="466.8" r="2.85"/><circle cx="340.7" cy="468.1" r="2.85"/><circle cx="361.3" cy="384.4" r="2.85"/><circle cx="362.0" cy="386.4" r="2.85"/><circle cx="362.7" cy="388.5" r="2.85"/><circle cx="363.3" cy="390.5" r="2.85"/><circle cx="364.0" cy="392.5" r="2.85"/><circle cx="364.7" cy="394.5" r="2.85"/><circle cx="365.4" cy="396.6" r="2.85"/><circle cx="366.1" cy="398.6" r="2.85"/><circle cx="366.7" cy="400.6" r="2.85"/><circle cx="367.4" cy="402.6" r="2.85"/><circle cx="368.1" cy="404.7" r="2.85"/><circle cx="368.8" cy="406.7" r="2.85"/><circle cx="369.4" cy="408.7" r="2.85"/><circle cx="370.1" cy="410.7" r="2.85"/><circle cx="370.8" cy="412.8" r="2.85"/><circle cx="371.5" cy="414.8" r="2.85"/><circle cx="372.2" cy="416.8" r="2.85"/><circle cx="372.8" cy="418.8" r="2.85"/><circle cx="373.5" cy="420.9" r="2.85"/><circle cx="374.2" cy="422.9" r="2.85"/><circle cx="372.7" cy="423.6" r="2.85"/><circle cx="371.0" cy="422.0" r="2.85"/><circle cx="374.0" cy="425.0" r="2.85"/><circle cx="370.0" cy="425.0" r="2.85"/><circle cx="375.0" cy="422.0" r="2.85"/><circle cx="372.0" cy="426.0" r="2.85"/><circle cx="372.2" cy="429.4" r="2.85"/><circle cx="371.9" cy="432.3" r="2.85"/><circle cx="371.7" cy="435.2" r="2.85"/><circle cx="371.4" cy="438.1" r="2.85"/><circle cx="371.2" cy="441.0" r="2.85"/><circle cx="387.8" cy="471.3" r="2.85"/><circle cx="388.3" cy="468.4" r="2.85"/><circle cx="388.9" cy="465.5" r="2.85"/><circle cx="389.4" cy="462.6" r="2.85"/><circle cx="390.0" cy="459.7" r="2.85"/><circle cx="390.5" cy="456.8" r="2.85"/><circle cx="391.1" cy="453.9" r="2.85"/><circle cx="391.6" cy="451.0" r="2.85"/><circle cx="392.2" cy="448.2" r="2.85"/><circle cx="392.7" cy="445.3" r="2.85"/><circle cx="393.2" cy="442.4" r="2.85"/><circle cx="393.8" cy="439.5" r="2.85"/><circle cx="394.3" cy="436.6" r="2.85"/><circle cx="394.9" cy="433.7" r="2.85"/><circle cx="395.4" cy="430.8" r="2.85"/><circle cx="396.0" cy="427.9" r="2.85"/><circle cx="396.5" cy="425.0" r="2.85"/><circle cx="397.1" cy="422.1" r="2.85"/><circle cx="397.6" cy="419.2" r="2.85"/><circle cx="398.2" cy="416.3" r="2.85"/><circle cx="398.7" cy="413.4" r="2.85"/><circle cx="399.2" cy="410.5" r="2.85"/><circle cx="399.8" cy="407.7" r="2.85"/><circle cx="400.3" cy="404.8" r="2.85"/><circle cx="400.9" cy="401.9" r="2.85"/><circle cx="401.4" cy="399.0" r="2.85"/><circle cx="402.0" cy="396.1" r="2.85"/><circle cx="402.5" cy="393.2" r="2.85"/><circle cx="403.1" cy="390.3" r="2.85"/><circle cx="403.6" cy="387.4" r="2.85"/><circle cx="381.7" cy="433.5" r="2.85"/><circle cx="382.2" cy="436.4" r="2.85"/><circle cx="382.6" cy="439.3" r="2.85"/><circle cx="383.1" cy="442.2" r="2.85"/><circle cx="383.6" cy="445.1" r="2.85"/><circle cx="384.0" cy="448.0" r="2.85"/><circle cx="384.5" cy="450.9" r="2.85"/><circle cx="385.0" cy="453.9" r="2.85"/><circle cx="385.5" cy="456.8" r="2.85"/><circle cx="385.9" cy="459.7" r="2.85"/><circle cx="386.4" cy="462.6" r="2.85"/><circle cx="386.9" cy="465.5" r="2.85"/><circle cx="387.3" cy="468.4" r="2.85"/><circle cx="392.3" cy="415.2" r="2.85"/><circle cx="392.9" cy="418.3" r="2.85"/><circle cx="393.4" cy="421.3" r="2.85"/><circle cx="394.0" cy="424.4" r="2.85"/><circle cx="394.6" cy="427.5" r="2.85"/><circle cx="395.7" cy="433.6" r="2.85"/><circle cx="396.3" cy="436.7" r="2.85"/><circle cx="396.9" cy="439.8" r="2.85"/><circle cx="397.5" cy="442.9" r="2.85"/><circle cx="398.0" cy="445.9" r="2.85"/><circle cx="398.6" cy="449.0" r="2.85"/><circle cx="404.9" cy="427.0" r="2.85"/><circle cx="404.0" cy="430.1" r="2.85"/><circle cx="403.1" cy="433.3" r="2.85"/><circle cx="402.2" cy="436.4" r="2.85"/><circle cx="401.3" cy="439.6" r="2.85"/><circle cx="400.4" cy="442.7" r="2.85"/><circle cx="399.5" cy="445.9" r="2.85"/><circle cx="384.4" cy="418.4" r="2.85"/><circle cx="385.0" cy="421.5" r="2.85"/><circle cx="385.5" cy="424.7" r="2.85"/><circle cx="386.1" cy="427.8" r="2.85"/><circle cx="386.7" cy="431.0" r="2.85"/><circle cx="387.3" cy="434.1" r="2.85"/><circle cx="387.8" cy="437.3" r="2.85"/><circle cx="388.4" cy="440.4" r="2.85"/><circle cx="395.0" cy="418.0" r="2.85"/><circle cx="398.0" cy="420.3" r="2.85"/><circle cx="401.0" cy="422.7" r="2.85"/><circle cx="404.0" cy="425.0" r="2.85"/><circle cx="389.0" cy="425.0" r="2.85"/><circle cx="389.8" cy="428.3" r="2.85"/><circle cx="390.7" cy="431.7" r="2.85"/><circle cx="391.5" cy="435.0" r="2.85"/><circle cx="392.3" cy="438.3" r="2.85"/><circle cx="394.0" cy="445.0" r="2.85"/><circle cx="400.0" cy="420.0" r="2.85"/><circle cx="400.2" cy="424.0" r="2.85"/><circle cx="400.4" cy="428.0" r="2.85"/><circle cx="400.6" cy="432.0" r="2.85"/><circle cx="400.8" cy="436.0" r="2.85"/><circle cx="446.7" cy="447.1" r="2.85"/><circle cx="448.0" cy="445.3" r="2.85"/><circle cx="449.2" cy="443.4" r="2.85"/><circle cx="450.5" cy="441.6" r="2.85"/><circle cx="451.7" cy="439.8" r="2.85"/><circle cx="453.0" cy="437.9" r="2.85"/><circle cx="454.3" cy="436.1" r="2.85"/><circle cx="455.5" cy="434.3" r="2.85"/><circle cx="456.8" cy="432.5" r="2.85"/><circle cx="458.1" cy="430.6" r="2.85"/><circle cx="459.3" cy="428.8" r="2.85"/><circle cx="460.6" cy="427.0" r="2.85"/><circle cx="461.8" cy="425.1" r="2.85"/><circle cx="463.1" cy="423.3" r="2.85"/><circle cx="449.0" cy="446.0" r="2.85"/><circle cx="450.9" cy="443.1" r="2.85"/><circle cx="452.7" cy="440.3" r="2.85"/><circle cx="454.6" cy="437.4" r="2.85"/><circle cx="456.4" cy="434.6" r="2.85"/><circle cx="458.3" cy="431.7" r="2.85"/><circle cx="460.1" cy="428.9" r="2.85"/><circle cx="462.0" cy="426.0" r="2.85"/><circle cx="463.1" cy="428.7" r="2.85"/><circle cx="464.9" cy="438.6" r="2.85"/><circle cx="467.0" cy="443.1" r="2.85"/><circle cx="468.1" cy="449.4" r="2.85"/><circle cx="468.8" cy="456.6" r="2.85"/><circle cx="470.3" cy="462.8" r="2.85"/><circle cx="471.2" cy="467.9" r="2.85"/><circle cx="471.7" cy="471.8" r="2.85"/><circle cx="473.0" cy="477.2" r="2.85"/><circle cx="473.9" cy="482.6" r="2.85"/><circle cx="474.8" cy="487.1" r="2.85"/><circle cx="475.7" cy="492.5" r="2.85"/><circle cx="476.6" cy="497.8" r="2.85"/><circle cx="477.5" cy="503.2" r="2.85"/><circle cx="478.3" cy="508.6" r="2.85"/><circle cx="479.2" cy="514.9" r="2.85"/><circle cx="480.7" cy="520.3" r="2.85"/><circle cx="481.4" cy="524.8" r="2.85"/><circle cx="482.5" cy="530.2" r="2.85"/><circle cx="482.8" cy="532.0" r="2.85"/><circle cx="485.5" cy="545.8" r="2.85"/><circle cx="556.8" cy="393.9" r="2.85"/><circle cx="558.6" cy="405.6" r="2.85"/><circle cx="561.8" cy="424.0" r="2.85"/><circle cx="563.6" cy="431.7" r="2.85"/><circle cx="564.0" cy="433.6" r="2.85"/><circle cx="564.4" cy="435.4" r="2.85"/><circle cx="564.8" cy="437.3" r="2.85"/><circle cx="565.1" cy="439.1" r="2.85"/><circle cx="565.5" cy="441.0" r="2.85"/><circle cx="565.9" cy="442.8" r="2.85"/><circle cx="566.3" cy="444.7" r="2.85"/></g><rect x="252.90" y="314.00" width="323.30" height="239.10" fill="none" stroke="#000" stroke-width="1.5"/><g font-size="14.5" fill="#000" stroke="#000" stroke-width="0.15"><text x="240.50" y="558.10" text-anchor="end">-30</text><text x="240.50" y="518.25" text-anchor="end">-20</text><text x="240.50" y="478.40" text-anchor="end">-10</text><text x="240.50" y="438.55" text-anchor="end">0</text><text x="240.50" y="398.70" text-anchor="end">10</text><text x="240.50" y="358.85" text-anchor="end">20</text><text x="240.50" y="319.00" text-anchor="end">30</text><text x="252.90" y="574.60" text-anchor="middle">120</text><text x="317.56" y="574.60" text-anchor="middle">220</text><text x="382.22" y="574.60" text-anchor="middle">320</text><text x="446.88" y="574.60" text-anchor="middle">420</text><text x="511.54" y="574.60" text-anchor="middle">520</text><text x="576.20" y="574.60" text-anchor="middle">620</text><text x="414.55" y="590.50" text-anchor="middle">Experimental heat capacity (J/mol.K)</text><text transform="translate(215,433.55) rotate(-90)" text-anchor="middle">Heat capacity deviation by GC model</text><text transform="translate(231,433.55) rotate(-90)" text-anchor="middle">(J/mol.K)</text></g><g stroke="#FF6060" stroke-width="0.9" fill="none"><rect x="263.5" y="517.1" width="5.2" height="5.2"/></g><g stroke="#4EC0F0" stroke-width="0.9" fill="none"><circle cx="266.1" cy="540.7" r="2.7"/></g><g font-size="14.4" fill="#000" stroke="#000" stroke-width="0.15"><text x="273.40000000000003" y="524.7">Test data set</text><text x="273.40000000000003" y="545.8000000000001">Trainning data set</text></g><g stroke="#000" stroke-width="1.5" fill="none"><line x1="49.20" y1="849.00" x2="53.20" y2="849.00"/><line x1="49.20" y1="809.10" x2="53.20" y2="809.10"/><line x1="49.20" y1="769.20" x2="53.20" y2="769.20"/><line x1="49.20" y1="729.30" x2="53.20" y2="729.30"/><line x1="49.20" y1="689.40" x2="53.20" y2="689.40"/><line x1="49.20" y1="649.50" x2="53.20" y2="649.50"/><line x1="49.20" y1="609.60" x2="53.20" y2="609.60"/><line x1="53.20" y1="725.30" x2="53.20" y2="733.30"/><line x1="133.35" y1="725.30" x2="133.35" y2="733.30"/><line x1="213.50" y1="725.30" x2="213.50" y2="733.30"/><line x1="293.65" y1="725.30" x2="293.65" y2="733.30"/><line x1="373.80" y1="725.30" x2="373.80" y2="733.30"/><line x1="53.20" y1="729.30" x2="373.80" y2="729.30"/></g><polygon points="233.0,746.0 243.0,738.0 265.0,729.0 266.0,735.0 250.0,743.0 236.0,748.0" fill="#FF1A1A" fill-opacity="1.0"/><g stroke="#FF1A1A" stroke-width="0.7" fill="none"><rect x="200.7" y="696.7" width="4.8" height="4.8"/><rect x="206.8" y="700.1" width="4.8" height="4.8"/><rect x="185.6" y="713.8" width="4.8" height="4.8"/><rect x="189.2" y="712.8" width="4.8" height="4.8"/><rect x="192.7" y="711.8" width="4.8" height="4.8"/><rect x="196.3" y="710.8" width="4.8" height="4.8"/><rect x="199.9" y="709.7" width="4.8" height="4.8"/><rect x="203.5" y="708.7" width="4.8" height="4.8"/><rect x="207.0" y="707.7" width="4.8" height="4.8"/><rect x="210.6" y="706.7" width="4.8" height="4.8"/><rect x="205.8" y="719.8" width="4.8" height="4.8"/><rect x="170.6" y="718.4" width="4.8" height="4.8"/><rect x="179.8" y="720.2" width="4.8" height="4.8"/><rect x="205.0" y="728.3" width="4.8" height="4.8"/><rect x="156.8" y="720.4" width="4.8" height="4.8"/><rect x="165.3" y="723.1" width="4.8" height="4.8"/><rect x="174.1" y="725.9" width="4.8" height="4.8"/><rect x="204.2" y="678.4" width="4.8" height="4.8"/><rect x="162.3" y="613.8" width="4.8" height="4.8"/><rect x="225.8" y="609.6" width="4.8" height="4.8"/><rect x="183.0" y="645.5" width="4.8" height="4.8"/><rect x="261.1" y="667.7" width="4.8" height="4.8"/><rect x="244.5" y="754.8" width="4.8" height="4.8"/><rect x="266.6" y="770.0" width="4.8" height="4.8"/><rect x="296.4" y="726.7" width="4.8" height="4.8"/><rect x="331.6" y="786.1" width="4.8" height="4.8"/><rect x="291.3" y="807.7" width="4.8" height="4.8"/><rect x="366.9" y="844.5" width="4.8" height="4.8"/><rect x="246.6" y="739.6" width="4.8" height="4.8"/><rect x="205.7" y="699.5" width="4.8" height="4.8"/><rect x="210.3" y="701.8" width="4.8" height="4.8"/><rect x="214.8" y="703.6" width="4.8" height="4.8"/><rect x="219.3" y="705.6" width="4.8" height="4.8"/><rect x="225.4" y="708.6" width="4.8" height="4.8"/><rect x="184.6" y="713.6" width="4.8" height="4.8"/><rect x="188.1" y="711.6" width="4.8" height="4.8"/><rect x="191.6" y="710.1" width="4.8" height="4.8"/><rect x="195.6" y="708.9" width="4.8" height="4.8"/><rect x="199.6" y="708.2" width="4.8" height="4.8"/><rect x="203.6" y="707.9" width="4.8" height="4.8"/><rect x="211.1" y="707.6" width="4.8" height="4.8"/><rect x="208.8" y="709.6" width="4.8" height="4.8"/><rect x="211.4" y="711.2" width="4.8" height="4.8"/><rect x="214.0" y="712.8" width="4.8" height="4.8"/><rect x="216.6" y="714.4" width="4.8" height="4.8"/><rect x="219.2" y="716.1" width="4.8" height="4.8"/><rect x="221.8" y="717.7" width="4.8" height="4.8"/><rect x="224.4" y="719.3" width="4.8" height="4.8"/><rect x="227.0" y="720.9" width="4.8" height="4.8"/><rect x="231.6" y="742.6" width="4.8" height="4.8"/><rect x="234.4" y="741.3" width="4.8" height="4.8"/><rect x="237.2" y="740.1" width="4.8" height="4.8"/><rect x="240.1" y="738.8" width="4.8" height="4.8"/><rect x="242.9" y="737.5" width="4.8" height="4.8"/><rect x="245.7" y="736.2" width="4.8" height="4.8"/><rect x="248.5" y="735.0" width="4.8" height="4.8"/><rect x="251.3" y="733.7" width="4.8" height="4.8"/><rect x="254.1" y="732.4" width="4.8" height="4.8"/><rect x="257.0" y="731.1" width="4.8" height="4.8"/><rect x="259.8" y="729.9" width="4.8" height="4.8"/><rect x="262.6" y="728.6" width="4.8" height="4.8"/></g><g stroke="#00AEEF" stroke-width="0.7" fill="none"><circle cx="86.2" cy="724.7" r="2.85"/><circle cx="89.3" cy="728.3" r="2.85"/><circle cx="92.9" cy="733.3" r="2.85"/><circle cx="95.9" cy="739.4" r="2.85"/><circle cx="99.8" cy="747.0" r="2.85"/><circle cx="103.0" cy="757.5" r="2.85"/><circle cx="106.4" cy="772.6" r="2.85"/><circle cx="92.3" cy="719.8" r="2.85"/><circle cx="95.3" cy="710.8" r="2.85"/><circle cx="98.7" cy="713.5" r="2.85"/><circle cx="102.1" cy="716.2" r="2.85"/><circle cx="105.5" cy="718.9" r="2.85"/><circle cx="108.9" cy="721.5" r="2.85"/><circle cx="112.3" cy="724.2" r="2.85"/><circle cx="115.7" cy="726.9" r="2.85"/><circle cx="119.1" cy="729.6" r="2.85"/><circle cx="122.5" cy="732.3" r="2.85"/><circle cx="109.4" cy="739.4" r="2.85"/><circle cx="113.5" cy="734.7" r="2.85"/><circle cx="117.1" cy="730.3" r="2.85"/><circle cx="120.5" cy="724.7" r="2.85"/><circle cx="120.1" cy="714.6" r="2.85"/><circle cx="123.5" cy="718.2" r="2.85"/><circle cx="127.6" cy="721.8" r="2.85"/><circle cx="130.6" cy="723.2" r="2.85"/><circle cx="134.6" cy="722.8" r="2.85"/><circle cx="138.6" cy="722.8" r="2.85"/><circle cx="143.7" cy="722.8" r="2.85"/><circle cx="191.0" cy="694.0" r="2.85"/><circle cx="179.0" cy="703.1" r="2.85"/><circle cx="193.5" cy="706.1" r="2.85"/><circle cx="201.1" cy="747.4" r="2.85"/><circle cx="185.6" cy="764.0" r="2.85"/><circle cx="203.7" cy="764.0" r="2.85"/><circle cx="188.4" cy="777.7" r="2.85"/><circle cx="168.6" cy="720.0" r="2.85"/><circle cx="170.8" cy="719.3" r="2.85"/><circle cx="173.3" cy="718.8" r="2.85"/><circle cx="159.3" cy="724.5" r="2.85"/><circle cx="164.9" cy="723.1" r="2.85"/><circle cx="169.8" cy="722.1" r="2.85"/><circle cx="174.2" cy="721.0" r="2.85"/><circle cx="177.1" cy="721.1" r="2.85"/><circle cx="180.3" cy="720.3" r="2.85"/><circle cx="185.2" cy="718.6" r="2.85"/><circle cx="157.8" cy="728.2" r="2.85"/><circle cx="161.1" cy="727.5" r="2.85"/><circle cx="163.8" cy="727.6" r="2.85"/><circle cx="165.9" cy="726.2" r="2.85"/><circle cx="170.6" cy="724.6" r="2.85"/><circle cx="172.8" cy="724.0" r="2.85"/><circle cx="175.4" cy="724.2" r="2.85"/><circle cx="178.9" cy="723.7" r="2.85"/><circle cx="180.6" cy="723.2" r="2.85"/><circle cx="186.0" cy="721.3" r="2.85"/><circle cx="188.3" cy="720.3" r="2.85"/><circle cx="191.1" cy="719.7" r="2.85"/><circle cx="193.1" cy="719.0" r="2.85"/><circle cx="160.2" cy="731.4" r="2.85"/><circle cx="162.6" cy="730.6" r="2.85"/><circle cx="165.7" cy="730.3" r="2.85"/><circle cx="170.1" cy="729.1" r="2.85"/><circle cx="173.4" cy="727.3" r="2.85"/><circle cx="175.8" cy="727.4" r="2.85"/><circle cx="177.4" cy="726.2" r="2.85"/><circle cx="179.9" cy="726.6" r="2.85"/><circle cx="183.5" cy="725.6" r="2.85"/><circle cx="185.0" cy="725.0" r="2.85"/><circle cx="188.1" cy="724.0" r="2.85"/><circle cx="190.1" cy="722.9" r="2.85"/><circle cx="192.5" cy="722.8" r="2.85"/><circle cx="195.4" cy="721.8" r="2.85"/><circle cx="198.0" cy="721.2" r="2.85"/><circle cx="200.7" cy="721.4" r="2.85"/><circle cx="157.4" cy="735.0" r="2.85"/><circle cx="160.2" cy="734.0" r="2.85"/><circle cx="162.9" cy="733.0" r="2.85"/><circle cx="165.7" cy="732.1" r="2.85"/><circle cx="167.5" cy="731.3" r="2.85"/><circle cx="170.5" cy="730.8" r="2.85"/><circle cx="172.2" cy="730.4" r="2.85"/><circle cx="175.2" cy="730.3" r="2.85"/><circle cx="177.8" cy="729.9" r="2.85"/><circle cx="182.4" cy="728.3" r="2.85"/><circle cx="184.8" cy="728.0" r="2.85"/><circle cx="188.3" cy="727.1" r="2.85"/><circle cx="190.6" cy="726.4" r="2.85"/><circle cx="195.7" cy="725.3" r="2.85"/><circle cx="198.0" cy="724.0" r="2.85"/><circle cx="200.7" cy="724.3" r="2.85"/><circle cx="203.2" cy="723.4" r="2.85"/><circle cx="161.6" cy="736.4" r="2.85"/><circle cx="166.7" cy="735.7" r="2.85"/><circle cx="169.3" cy="734.9" r="2.85"/><circle cx="172.8" cy="734.2" r="2.85"/><circle cx="174.9" cy="733.8" r="2.85"/><circle cx="184.9" cy="730.7" r="2.85"/><circle cx="187.4" cy="731.0" r="2.85"/><circle cx="190.2" cy="730.3" r="2.85"/><circle cx="192.9" cy="729.8" r="2.85"/><circle cx="197.3" cy="727.7" r="2.85"/><circle cx="199.9" cy="727.8" r="2.85"/><circle cx="201.9" cy="726.5" r="2.85"/><circle cx="207.1" cy="725.3" r="2.85"/><circle cx="210.6" cy="725.3" r="2.85"/><circle cx="167.2" cy="738.5" r="2.85"/><circle cx="168.9" cy="738.5" r="2.85"/><circle cx="171.5" cy="737.8" r="2.85"/><circle cx="174.7" cy="737.5" r="2.85"/><circle cx="177.5" cy="736.7" r="2.85"/><circle cx="179.3" cy="735.5" r="2.85"/><circle cx="182.5" cy="734.9" r="2.85"/><circle cx="184.7" cy="735.1" r="2.85"/><circle cx="187.0" cy="733.5" r="2.85"/><circle cx="189.5" cy="733.7" r="2.85"/><circle cx="192.4" cy="733.3" r="2.85"/><circle cx="195.1" cy="731.8" r="2.85"/><circle cx="199.6" cy="730.3" r="2.85"/><circle cx="202.4" cy="730.1" r="2.85"/><circle cx="204.2" cy="730.0" r="2.85"/><circle cx="207.6" cy="728.5" r="2.85"/><circle cx="209.7" cy="728.2" r="2.85"/><circle cx="212.3" cy="728.1" r="2.85"/><circle cx="178.9" cy="739.4" r="2.85"/><circle cx="180.9" cy="738.5" r="2.85"/><circle cx="186.5" cy="737.0" r="2.85"/><circle cx="188.5" cy="735.7" r="2.85"/><circle cx="191.3" cy="735.2" r="2.85"/><circle cx="196.2" cy="734.7" r="2.85"/><circle cx="198.6" cy="734.2" r="2.85"/><circle cx="203.8" cy="732.4" r="2.85"/><circle cx="206.5" cy="732.1" r="2.85"/><circle cx="209.1" cy="731.3" r="2.85"/><circle cx="211.8" cy="730.3" r="2.85"/><circle cx="197.2" cy="737.2" r="2.85"/><circle cx="201.6" cy="735.6" r="2.85"/><circle cx="212.5" cy="733.2" r="2.85"/><circle cx="157.0" cy="751.0" r="2.85"/><circle cx="160.8" cy="748.6" r="2.85"/><circle cx="164.5" cy="746.2" r="2.85"/><circle cx="168.2" cy="743.9" r="2.85"/><circle cx="172.0" cy="741.5" r="2.85"/><circle cx="175.8" cy="739.1" r="2.85"/><circle cx="179.5" cy="736.8" r="2.85"/><circle cx="187.0" cy="732.0" r="2.85"/><circle cx="162.0" cy="748.0" r="2.85"/><circle cx="166.1" cy="746.4" r="2.85"/><circle cx="170.2" cy="744.8" r="2.85"/><circle cx="174.4" cy="743.1" r="2.85"/><circle cx="178.5" cy="741.5" r="2.85"/><circle cx="182.6" cy="739.9" r="2.85"/><circle cx="186.8" cy="738.2" r="2.85"/><circle cx="190.9" cy="736.6" r="2.85"/><circle cx="195.0" cy="735.0" r="2.85"/><circle cx="155.0" cy="744.0" r="2.85"/><circle cx="159.2" cy="741.8" r="2.85"/><circle cx="163.3" cy="739.7" r="2.85"/><circle cx="167.5" cy="737.5" r="2.85"/><circle cx="171.7" cy="735.3" r="2.85"/><circle cx="175.8" cy="733.2" r="2.85"/><circle cx="180.0" cy="731.0" r="2.85"/><circle cx="170.0" cy="748.0" r="2.85"/><circle cx="174.3" cy="746.6" r="2.85"/><circle cx="178.6" cy="745.1" r="2.85"/><circle cx="182.9" cy="743.7" r="2.85"/><circle cx="187.1" cy="742.3" r="2.85"/><circle cx="191.4" cy="740.9" r="2.85"/><circle cx="195.7" cy="739.4" r="2.85"/><circle cx="200.0" cy="738.0" r="2.85"/><circle cx="167.0" cy="717.7" r="2.85"/><circle cx="170.2" cy="715.0" r="2.85"/><circle cx="173.4" cy="712.2" r="2.85"/><circle cx="176.5" cy="709.5" r="2.85"/><circle cx="179.7" cy="706.7" r="2.85"/><circle cx="182.9" cy="704.0" r="2.85"/><circle cx="160.0" cy="722.0" r="2.85"/><circle cx="164.5" cy="719.5" r="2.85"/><circle cx="169.0" cy="717.0" r="2.85"/><circle cx="173.5" cy="714.5" r="2.85"/><circle cx="178.0" cy="712.0" r="2.85"/><circle cx="190.8" cy="695.6" r="2.85"/><circle cx="243.8" cy="725.9" r="2.85"/><circle cx="238.2" cy="724.9" r="2.85"/><circle cx="240.1" cy="726.3" r="2.85"/><circle cx="243.9" cy="730.2" r="2.85"/><circle cx="248.8" cy="734.1" r="2.85"/><circle cx="230.2" cy="721.6" r="2.85"/><circle cx="234.6" cy="725.6" r="2.85"/><circle cx="236.4" cy="726.6" r="2.85"/><circle cx="238.4" cy="728.7" r="2.85"/><circle cx="241.5" cy="730.9" r="2.85"/><circle cx="245.4" cy="735.2" r="2.85"/><circle cx="228.5" cy="722.9" r="2.85"/><circle cx="232.2" cy="727.4" r="2.85"/><circle cx="235.6" cy="729.5" r="2.85"/><circle cx="244.3" cy="737.3" r="2.85"/><circle cx="225.9" cy="727.0" r="2.85"/><circle cx="228.1" cy="728.8" r="2.85"/><circle cx="233.3" cy="733.7" r="2.85"/><circle cx="237.3" cy="736.9" r="2.85"/><circle cx="239.3" cy="739.7" r="2.85"/><circle cx="241.3" cy="741.0" r="2.85"/><circle cx="217.5" cy="725.4" r="2.85"/><circle cx="220.0" cy="728.3" r="2.85"/><circle cx="224.2" cy="732.4" r="2.85"/><circle cx="229.0" cy="736.4" r="2.85"/><circle cx="231.8" cy="738.0" r="2.85"/><circle cx="235.9" cy="741.7" r="2.85"/><circle cx="243.0" cy="748.1" r="2.85"/><circle cx="244.4" cy="750.6" r="2.85"/><circle cx="221.2" cy="734.9" r="2.85"/><circle cx="225.8" cy="737.8" r="2.85"/><circle cx="230.8" cy="742.9" r="2.85"/><circle cx="236.7" cy="748.0" r="2.85"/><circle cx="238.9" cy="750.7" r="2.85"/><circle cx="217.4" cy="734.1" r="2.85"/><circle cx="219.1" cy="735.9" r="2.85"/><circle cx="221.4" cy="738.2" r="2.85"/><circle cx="224.6" cy="740.4" r="2.85"/><circle cx="226.0" cy="741.9" r="2.85"/><circle cx="229.1" cy="744.8" r="2.85"/><circle cx="233.4" cy="748.4" r="2.85"/><circle cx="218.4" cy="738.8" r="2.85"/><circle cx="227.6" cy="747.1" r="2.85"/><circle cx="233.9" cy="753.0" r="2.85"/><circle cx="230.0" cy="694.4" r="2.85"/><circle cx="235.3" cy="697.4" r="2.85"/><circle cx="239.1" cy="700.4" r="2.85"/><circle cx="236.8" cy="706.4" r="2.85"/><circle cx="259.5" cy="714.8" r="2.85"/><circle cx="261.6" cy="716.9" r="2.85"/><circle cx="263.7" cy="719.0" r="2.85"/><circle cx="265.9" cy="721.1" r="2.85"/><circle cx="268.0" cy="723.2" r="2.85"/><circle cx="270.1" cy="725.3" r="2.85"/><circle cx="269.3" cy="736.7" r="2.85"/><circle cx="280.7" cy="732.1" r="2.85"/><circle cx="280.7" cy="738.9" r="2.85"/><circle cx="291.3" cy="741.2" r="2.85"/><circle cx="294.3" cy="729.1" r="2.85"/><circle cx="258.8" cy="751.3" r="2.85"/><circle cx="249.7" cy="749.2" r="2.85"/><circle cx="190.4" cy="763.8" r="2.85"/><circle cx="269.6" cy="730.5" r="2.85"/></g><rect x="53.20" y="609.60" width="320.60" height="239.40" fill="none" stroke="#000" stroke-width="1.5"/><g font-size="14.5" fill="#000" stroke="#000" stroke-width="0.15"><text x="40.80" y="854.00" text-anchor="end">-300</text><text x="40.80" y="814.10" text-anchor="end">-200</text><text x="40.80" y="774.20" text-anchor="end">-100</text><text x="40.80" y="734.30" text-anchor="end">0</text><text x="40.80" y="694.40" text-anchor="end">100</text><text x="40.80" y="654.50" text-anchor="end">200</text><text x="40.80" y="614.60" text-anchor="end">300</text><text x="53.20" y="870.50" text-anchor="middle">1000</text><text x="133.35" y="870.50" text-anchor="middle">1400</text><text x="213.50" y="870.50" text-anchor="middle">1800</text><text x="293.65" y="870.50" text-anchor="middle">2200</text><text x="373.80" y="870.50" text-anchor="middle">2600</text><text x="213.50" y="886.40" text-anchor="middle">Experimental speed of sound (m/s)</text><text transform="translate(16,729.30) rotate(-90)" text-anchor="middle">Speed of sound deviation by GC model</text><text transform="translate(32.4,729.30) rotate(-90)" text-anchor="middle">(m/s)</text></g><g stroke="#FF6060" stroke-width="0.9" fill="none"><rect x="68.4" y="807.1" width="5.2" height="5.2"/></g><g stroke="#4EC0F0" stroke-width="0.9" fill="none"><circle cx="71.0" cy="833.3" r="2.7"/></g><g font-size="14.4" fill="#000" stroke="#000" stroke-width="0.15"><text x="78.3" y="814.7">Test data set</text><text x="78.3" y="838.4">Trainning data set</text></g><g stroke="#000" stroke-width="1.5" fill="none"><line x1="447.80" y1="849.00" x2="451.80" y2="849.00"/><line x1="447.80" y1="809.10" x2="451.80" y2="809.10"/><line x1="447.80" y1="769.20" x2="451.80" y2="769.20"/><line x1="447.80" y1="729.30" x2="451.80" y2="729.30"/><line x1="447.80" y1="689.40" x2="451.80" y2="689.40"/><line x1="447.80" y1="649.50" x2="451.80" y2="649.50"/><line x1="447.80" y1="609.60" x2="451.80" y2="609.60"/><line x1="451.80" y1="725.30" x2="451.80" y2="733.30"/><line x1="516.43" y1="725.30" x2="516.43" y2="733.30"/><line x1="581.06" y1="725.30" x2="581.06" y2="733.30"/><line x1="645.69" y1="725.30" x2="645.69" y2="733.30"/><line x1="710.32" y1="725.30" x2="710.32" y2="733.30"/><line x1="774.95" y1="725.30" x2="774.95" y2="733.30"/><line x1="451.80" y1="729.30" x2="774.95" y2="729.30"/></g><g stroke="#FF1A1A" stroke-width="0.7" fill="none"><rect x="499.0" y="632.7" width="4.8" height="4.8"/><rect x="506.0" y="685.7" width="4.8" height="4.8"/><rect x="478.8" y="707.3" width="4.8" height="4.8"/><rect x="484.9" y="711.3" width="4.8" height="4.8"/><rect x="490.9" y="713.9" width="4.8" height="4.8"/><rect x="496.4" y="716.3" width="4.8" height="4.8"/><rect x="545.9" y="709.7" width="4.8" height="4.8"/><rect x="586.2" y="734.1" width="4.8" height="4.8"/><rect x="469.3" y="715.9" width="4.8" height="4.8"/><rect x="479.8" y="719.7" width="4.8" height="4.8"/><rect x="487.4" y="717.7" width="4.8" height="4.8"/><rect x="477.3" y="730.3" width="4.8" height="4.8"/><rect x="492.2" y="726.4" width="4.8" height="4.8"/><rect x="500.5" y="724.1" width="4.8" height="4.8"/><rect x="507.3" y="721.8" width="4.8" height="4.8"/><rect x="515.9" y="718.9" width="4.8" height="4.8"/><rect x="523.1" y="717.1" width="4.8" height="4.8"/><rect x="481.8" y="734.2" width="4.8" height="4.8"/><rect x="489.4" y="732.5" width="4.8" height="4.8"/><rect x="497.7" y="729.8" width="4.8" height="4.8"/><rect x="512.5" y="725.2" width="4.8" height="4.8"/><rect x="528.0" y="721.1" width="4.8" height="4.8"/><rect x="488.8" y="739.2" width="4.8" height="4.8"/><rect x="496.2" y="737.0" width="4.8" height="4.8"/><rect x="510.8" y="732.8" width="4.8" height="4.8"/><rect x="518.8" y="730.9" width="4.8" height="4.8"/><rect x="526.6" y="728.5" width="4.8" height="4.8"/><rect x="513.1" y="737.4" width="4.8" height="4.8"/><rect x="524.1" y="740.4" width="4.8" height="4.8"/><rect x="545.1" y="714.4" width="4.8" height="4.8"/><rect x="567.0" y="722.8" width="4.8" height="4.8"/><rect x="574.7" y="726.0" width="4.8" height="4.8"/><rect x="582.6" y="728.3" width="4.8" height="4.8"/><rect x="529.7" y="716.9" width="4.8" height="4.8"/><rect x="559.7" y="728.2" width="4.8" height="4.8"/><rect x="534.8" y="725.3" width="4.8" height="4.8"/><rect x="542.9" y="727.7" width="4.8" height="4.8"/><rect x="549.9" y="731.4" width="4.8" height="4.8"/><rect x="557.5" y="733.8" width="4.8" height="4.8"/><rect x="564.9" y="737.7" width="4.8" height="4.8"/><rect x="536.2" y="734.0" width="4.8" height="4.8"/><rect x="566.0" y="746.2" width="4.8" height="4.8"/><rect x="533.6" y="740.3" width="4.8" height="4.8"/><rect x="549.0" y="745.5" width="4.8" height="4.8"/><rect x="563.1" y="752.2" width="4.8" height="4.8"/><rect x="576.6" y="738.9" width="4.8" height="4.8"/><rect x="582.6" y="740.9" width="4.8" height="4.8"/><rect x="588.6" y="743.9" width="4.8" height="4.8"/><rect x="594.7" y="746.4" width="4.8" height="4.8"/><rect x="600.3" y="749.0" width="4.8" height="4.8"/><rect x="606.8" y="743.9" width="4.8" height="4.8"/><rect x="570.6" y="754.6" width="4.8" height="4.8"/><rect x="662.7" y="691.4" width="4.8" height="4.8"/><rect x="675.1" y="698.6" width="4.8" height="4.8"/><rect x="688.6" y="705.9" width="4.8" height="4.8"/><rect x="699.0" y="713.2" width="4.8" height="4.8"/><rect x="702.1" y="714.7" width="4.8" height="4.8"/><rect x="705.2" y="716.1" width="4.8" height="4.8"/><rect x="708.4" y="717.6" width="4.8" height="4.8"/><rect x="711.5" y="719.0" width="4.8" height="4.8"/><rect x="714.6" y="720.5" width="4.8" height="4.8"/><rect x="715.2" y="708.0" width="4.8" height="4.8"/><rect x="719.3" y="709.7" width="4.8" height="4.8"/><rect x="723.3" y="711.5" width="4.8" height="4.8"/><rect x="727.4" y="713.2" width="4.8" height="4.8"/><rect x="731.5" y="714.9" width="4.8" height="4.8"/><rect x="735.5" y="716.7" width="4.8" height="4.8"/><rect x="739.6" y="718.4" width="4.8" height="4.8"/><rect x="727.1" y="727.7" width="4.8" height="4.8"/><rect x="740.0" y="735.4" width="4.8" height="4.8"/><rect x="706.9" y="735.0" width="4.8" height="4.8"/><rect x="709.9" y="736.2" width="4.8" height="4.8"/><rect x="712.9" y="737.4" width="4.8" height="4.8"/><rect x="715.9" y="738.6" width="4.8" height="4.8"/><rect x="719.0" y="739.9" width="4.8" height="4.8"/><rect x="722.0" y="741.1" width="4.8" height="4.8"/><rect x="725.0" y="742.3" width="4.8" height="4.8"/><rect x="610.7" y="745.0" width="4.8" height="4.8"/><rect x="613.8" y="746.8" width="4.8" height="4.8"/><rect x="617.0" y="748.5" width="4.8" height="4.8"/><rect x="620.1" y="750.2" width="4.8" height="4.8"/><rect x="623.2" y="752.0" width="4.8" height="4.8"/><rect x="626.3" y="753.7" width="4.8" height="4.8"/><rect x="648.1" y="752.7" width="4.8" height="4.8"/><rect x="666.5" y="781.1" width="4.8" height="4.8"/><rect x="673.4" y="786.0" width="4.8" height="4.8"/><rect x="675.4" y="786.8" width="4.8" height="4.8"/><rect x="677.4" y="787.7" width="4.8" height="4.8"/><rect x="679.4" y="788.5" width="4.8" height="4.8"/><rect x="681.4" y="789.3" width="4.8" height="4.8"/><rect x="683.4" y="790.1" width="4.8" height="4.8"/><rect x="685.5" y="791.0" width="4.8" height="4.8"/><rect x="687.5" y="791.8" width="4.8" height="4.8"/><rect x="689.5" y="792.6" width="4.8" height="4.8"/><rect x="691.5" y="793.4" width="4.8" height="4.8"/><rect x="693.5" y="794.3" width="4.8" height="4.8"/><rect x="695.5" y="795.1" width="4.8" height="4.8"/><rect x="707.0" y="805.2" width="4.8" height="4.8"/><rect x="706.5" y="815.0" width="4.8" height="4.8"/><rect x="609.9" y="746.2" width="4.8" height="4.8"/><rect x="612.7" y="748.1" width="4.8" height="4.8"/><rect x="615.5" y="750.0" width="4.8" height="4.8"/><rect x="618.3" y="751.9" width="4.8" height="4.8"/><rect x="621.1" y="753.8" width="4.8" height="4.8"/><rect x="623.9" y="755.7" width="4.8" height="4.8"/><rect x="626.7" y="757.6" width="4.8" height="4.8"/><rect x="577.6" y="738.6" width="4.8" height="4.8"/><rect x="478.8" y="737.9" width="4.8" height="4.8"/><rect x="485.9" y="739.9" width="4.8" height="4.8"/><rect x="492.9" y="740.9" width="4.8" height="4.8"/><rect x="502.0" y="741.9" width="4.8" height="4.8"/><rect x="510.1" y="739.9" width="4.8" height="4.8"/><rect x="518.1" y="740.9" width="4.8" height="4.8"/><rect x="524.2" y="743.9" width="4.8" height="4.8"/><rect x="487.6" y="732.6" width="4.8" height="4.8"/><rect x="497.6" y="735.6" width="4.8" height="4.8"/><rect x="512.6" y="729.6" width="4.8" height="4.8"/><rect x="537.6" y="737.6" width="4.8" height="4.8"/><rect x="545.6" y="741.6" width="4.8" height="4.8"/><rect x="557.6" y="745.6" width="4.8" height="4.8"/></g><g stroke="#00AEEF" stroke-width="0.7" fill="none"><circle cx="459.7" cy="679.0" r="2.85"/><circle cx="467.1" cy="679.0" r="2.85"/><circle cx="474.8" cy="679.3" r="2.85"/><circle cx="482.6" cy="679.3" r="2.85"/><circle cx="490.3" cy="679.0" r="2.85"/><circle cx="498.0" cy="678.8" r="2.85"/><circle cx="482.6" cy="686.9" r="2.85"/><circle cx="488.3" cy="687.0" r="2.85"/><circle cx="493.9" cy="687.5" r="2.85"/><circle cx="498.3" cy="687.8" r="2.85"/><circle cx="505.4" cy="688.0" r="2.85"/><circle cx="510.4" cy="688.0" r="2.85"/><circle cx="516.5" cy="666.0" r="2.85"/><circle cx="519.9" cy="668.8" r="2.85"/><circle cx="552.8" cy="660.9" r="2.85"/><circle cx="556.4" cy="663.5" r="2.85"/><circle cx="566.5" cy="646.6" r="2.85"/><circle cx="509.0" cy="710.7" r="2.85"/><circle cx="510.4" cy="713.7" r="2.85"/><circle cx="532.2" cy="677.0" r="2.85"/><circle cx="538.2" cy="677.8" r="2.85"/><circle cx="543.7" cy="678.2" r="2.85"/><circle cx="549.3" cy="678.4" r="2.85"/><circle cx="555.2" cy="678.6" r="2.85"/><circle cx="560.8" cy="678.8" r="2.85"/><circle cx="560.8" cy="710.3" r="2.85"/><circle cx="566.3" cy="712.0" r="2.85"/><circle cx="571.7" cy="713.7" r="2.85"/><circle cx="577.2" cy="715.5" r="2.85"/><circle cx="582.7" cy="717.2" r="2.85"/><circle cx="588.1" cy="718.9" r="2.85"/><circle cx="593.6" cy="720.6" r="2.85"/><circle cx="599.1" cy="722.4" r="2.85"/><circle cx="604.5" cy="724.1" r="2.85"/><circle cx="610.0" cy="725.8" r="2.85"/><circle cx="459.1" cy="715.7" r="2.85"/><circle cx="465.1" cy="718.1" r="2.85"/><circle cx="472.2" cy="720.8" r="2.85"/><circle cx="474.8" cy="716.1" r="2.85"/><circle cx="467.1" cy="722.8" r="2.85"/><circle cx="470.8" cy="720.1" r="2.85"/><circle cx="472.5" cy="719.7" r="2.85"/><circle cx="478.3" cy="717.9" r="2.85"/><circle cx="480.6" cy="717.3" r="2.85"/><circle cx="470.6" cy="722.8" r="2.85"/><circle cx="474.1" cy="722.0" r="2.85"/><circle cx="484.3" cy="718.6" r="2.85"/><circle cx="471.2" cy="725.3" r="2.85"/><circle cx="474.0" cy="725.2" r="2.85"/><circle cx="477.4" cy="723.9" r="2.85"/><circle cx="479.4" cy="723.4" r="2.85"/><circle cx="482.3" cy="722.2" r="2.85"/><circle cx="490.5" cy="720.2" r="2.85"/><circle cx="493.6" cy="718.9" r="2.85"/><circle cx="476.4" cy="727.1" r="2.85"/><circle cx="482.5" cy="725.5" r="2.85"/><circle cx="486.9" cy="723.2" r="2.85"/><circle cx="492.5" cy="722.2" r="2.85"/><circle cx="495.4" cy="721.0" r="2.85"/><circle cx="497.7" cy="720.0" r="2.85"/><circle cx="472.5" cy="730.6" r="2.85"/><circle cx="475.5" cy="729.7" r="2.85"/><circle cx="477.5" cy="728.9" r="2.85"/><circle cx="480.5" cy="728.1" r="2.85"/><circle cx="483.0" cy="727.2" r="2.85"/><circle cx="488.7" cy="725.3" r="2.85"/><circle cx="491.0" cy="724.9" r="2.85"/><circle cx="496.2" cy="723.4" r="2.85"/><circle cx="498.6" cy="722.6" r="2.85"/><circle cx="507.0" cy="720.2" r="2.85"/><circle cx="483.9" cy="729.2" r="2.85"/><circle cx="487.1" cy="728.5" r="2.85"/><circle cx="489.9" cy="727.9" r="2.85"/><circle cx="492.3" cy="727.8" r="2.85"/><circle cx="497.1" cy="725.2" r="2.85"/><circle cx="500.4" cy="725.3" r="2.85"/><circle cx="502.6" cy="724.3" r="2.85"/><circle cx="508.6" cy="722.4" r="2.85"/><circle cx="511.4" cy="721.5" r="2.85"/><circle cx="513.9" cy="721.4" r="2.85"/><circle cx="516.9" cy="720.6" r="2.85"/><circle cx="524.5" cy="718.1" r="2.85"/><circle cx="477.4" cy="734.7" r="2.85"/><circle cx="483.0" cy="734.1" r="2.85"/><circle cx="485.3" cy="732.3" r="2.85"/><circle cx="488.0" cy="732.2" r="2.85"/><circle cx="494.3" cy="729.9" r="2.85"/><circle cx="497.0" cy="729.4" r="2.85"/><circle cx="504.5" cy="726.8" r="2.85"/><circle cx="507.7" cy="726.1" r="2.85"/><circle cx="509.5" cy="725.0" r="2.85"/><circle cx="512.3" cy="725.1" r="2.85"/><circle cx="514.6" cy="723.9" r="2.85"/><circle cx="517.7" cy="722.8" r="2.85"/><circle cx="520.7" cy="722.8" r="2.85"/><circle cx="480.9" cy="738.1" r="2.85"/><circle cx="490.8" cy="734.9" r="2.85"/><circle cx="496.8" cy="733.0" r="2.85"/><circle cx="501.8" cy="730.8" r="2.85"/><circle cx="504.3" cy="730.9" r="2.85"/><circle cx="508.0" cy="729.1" r="2.85"/><circle cx="510.5" cy="728.9" r="2.85"/><circle cx="512.3" cy="727.8" r="2.85"/><circle cx="518.8" cy="725.9" r="2.85"/><circle cx="520.6" cy="724.9" r="2.85"/><circle cx="523.7" cy="724.3" r="2.85"/><circle cx="528.6" cy="723.5" r="2.85"/><circle cx="484.1" cy="740.5" r="2.85"/><circle cx="486.7" cy="739.6" r="2.85"/><circle cx="492.2" cy="737.3" r="2.85"/><circle cx="494.7" cy="737.0" r="2.85"/><circle cx="497.5" cy="736.4" r="2.85"/><circle cx="500.5" cy="735.5" r="2.85"/><circle cx="502.4" cy="734.8" r="2.85"/><circle cx="510.7" cy="732.1" r="2.85"/><circle cx="526.9" cy="727.7" r="2.85"/><circle cx="532.1" cy="725.2" r="2.85"/><circle cx="491.6" cy="741.7" r="2.85"/><circle cx="495.1" cy="740.8" r="2.85"/><circle cx="500.7" cy="739.1" r="2.85"/><circle cx="510.5" cy="735.0" r="2.85"/><circle cx="513.1" cy="734.8" r="2.85"/><circle cx="516.6" cy="733.9" r="2.85"/><circle cx="519.3" cy="732.8" r="2.85"/><circle cx="523.8" cy="731.1" r="2.85"/><circle cx="526.9" cy="730.6" r="2.85"/><circle cx="532.5" cy="728.9" r="2.85"/><circle cx="498.5" cy="741.5" r="2.85"/><circle cx="501.4" cy="740.4" r="2.85"/><circle cx="506.7" cy="739.4" r="2.85"/><circle cx="515.2" cy="736.5" r="2.85"/><circle cx="517.1" cy="735.4" r="2.85"/><circle cx="519.5" cy="734.6" r="2.85"/><circle cx="527.7" cy="733.1" r="2.85"/><circle cx="502.5" cy="743.1" r="2.85"/><circle cx="507.2" cy="740.9" r="2.85"/><circle cx="515.3" cy="739.0" r="2.85"/><circle cx="518.7" cy="738.1" r="2.85"/><circle cx="520.4" cy="737.3" r="2.85"/><circle cx="523.4" cy="736.9" r="2.85"/><circle cx="526.3" cy="736.0" r="2.85"/><circle cx="529.2" cy="734.4" r="2.85"/><circle cx="531.9" cy="733.7" r="2.85"/><circle cx="514.0" cy="742.8" r="2.85"/><circle cx="516.2" cy="742.2" r="2.85"/><circle cx="518.9" cy="741.5" r="2.85"/><circle cx="521.5" cy="740.7" r="2.85"/><circle cx="524.4" cy="740.2" r="2.85"/><circle cx="517.6" cy="743.9" r="2.85"/><circle cx="523.4" cy="742.7" r="2.85"/><circle cx="526.4" cy="742.4" r="2.85"/><circle cx="528.1" cy="740.6" r="2.85"/><circle cx="527.6" cy="743.9" r="2.85"/><circle cx="573.0" cy="717.9" r="2.85"/><circle cx="575.8" cy="718.9" r="2.85"/><circle cx="556.9" cy="713.9" r="2.85"/><circle cx="559.3" cy="714.9" r="2.85"/><circle cx="562.4" cy="716.7" r="2.85"/><circle cx="564.4" cy="717.3" r="2.85"/><circle cx="567.4" cy="718.3" r="2.85"/><circle cx="569.3" cy="719.4" r="2.85"/><circle cx="577.6" cy="722.7" r="2.85"/><circle cx="580.2" cy="723.6" r="2.85"/><circle cx="582.7" cy="724.8" r="2.85"/><circle cx="585.4" cy="725.3" r="2.85"/><circle cx="549.6" cy="713.7" r="2.85"/><circle cx="551.9" cy="715.0" r="2.85"/><circle cx="569.7" cy="721.9" r="2.85"/><circle cx="572.6" cy="723.3" r="2.85"/><circle cx="575.0" cy="723.3" r="2.85"/><circle cx="583.2" cy="727.0" r="2.85"/><circle cx="585.7" cy="728.0" r="2.85"/><circle cx="548.6" cy="716.4" r="2.85"/><circle cx="553.7" cy="718.4" r="2.85"/><circle cx="566.2" cy="723.5" r="2.85"/><circle cx="569.6" cy="724.9" r="2.85"/><circle cx="571.6" cy="725.4" r="2.85"/><circle cx="574.9" cy="727.4" r="2.85"/><circle cx="577.4" cy="728.4" r="2.85"/><circle cx="582.8" cy="729.4" r="2.85"/><circle cx="585.4" cy="731.1" r="2.85"/><circle cx="537.6" cy="715.6" r="2.85"/><circle cx="539.3" cy="716.3" r="2.85"/><circle cx="542.8" cy="718.4" r="2.85"/><circle cx="545.4" cy="718.8" r="2.85"/><circle cx="547.4" cy="720.0" r="2.85"/><circle cx="557.7" cy="724.1" r="2.85"/><circle cx="560.2" cy="725.0" r="2.85"/><circle cx="563.7" cy="725.7" r="2.85"/><circle cx="568.2" cy="728.0" r="2.85"/><circle cx="573.0" cy="729.9" r="2.85"/><circle cx="578.2" cy="732.5" r="2.85"/><circle cx="581.1" cy="733.0" r="2.85"/><circle cx="583.8" cy="734.7" r="2.85"/><circle cx="532.6" cy="716.2" r="2.85"/><circle cx="535.6" cy="717.2" r="2.85"/><circle cx="538.3" cy="717.9" r="2.85"/><circle cx="540.6" cy="719.2" r="2.85"/><circle cx="543.1" cy="720.9" r="2.85"/><circle cx="546.0" cy="721.6" r="2.85"/><circle cx="548.2" cy="721.9" r="2.85"/><circle cx="550.9" cy="723.8" r="2.85"/><circle cx="553.5" cy="724.6" r="2.85"/><circle cx="555.8" cy="725.3" r="2.85"/><circle cx="563.2" cy="729.2" r="2.85"/><circle cx="566.8" cy="730.1" r="2.85"/><circle cx="569.1" cy="731.4" r="2.85"/><circle cx="573.8" cy="732.6" r="2.85"/><circle cx="576.8" cy="733.9" r="2.85"/><circle cx="578.8" cy="734.4" r="2.85"/><circle cx="584.1" cy="736.9" r="2.85"/><circle cx="531.1" cy="719.0" r="2.85"/><circle cx="533.0" cy="719.5" r="2.85"/><circle cx="536.0" cy="720.1" r="2.85"/><circle cx="538.8" cy="721.9" r="2.85"/><circle cx="540.9" cy="722.4" r="2.85"/><circle cx="543.9" cy="723.3" r="2.85"/><circle cx="546.6" cy="724.4" r="2.85"/><circle cx="552.1" cy="727.0" r="2.85"/><circle cx="554.7" cy="727.8" r="2.85"/><circle cx="557.2" cy="729.1" r="2.85"/><circle cx="559.7" cy="730.0" r="2.85"/><circle cx="561.9" cy="731.3" r="2.85"/><circle cx="569.6" cy="734.3" r="2.85"/><circle cx="575.6" cy="736.6" r="2.85"/><circle cx="578.0" cy="736.9" r="2.85"/><circle cx="580.2" cy="738.3" r="2.85"/><circle cx="530.7" cy="721.1" r="2.85"/><circle cx="533.0" cy="723.1" r="2.85"/><circle cx="549.3" cy="729.1" r="2.85"/><circle cx="550.9" cy="729.7" r="2.85"/><circle cx="556.5" cy="732.2" r="2.85"/><circle cx="559.8" cy="732.7" r="2.85"/><circle cx="561.7" cy="734.5" r="2.85"/><circle cx="564.7" cy="735.5" r="2.85"/><circle cx="567.6" cy="736.7" r="2.85"/><circle cx="569.9" cy="737.6" r="2.85"/><circle cx="571.8" cy="738.4" r="2.85"/><circle cx="575.3" cy="738.9" r="2.85"/><circle cx="577.1" cy="739.9" r="2.85"/><circle cx="579.7" cy="741.1" r="2.85"/><circle cx="582.2" cy="742.3" r="2.85"/><circle cx="534.3" cy="725.6" r="2.85"/><circle cx="537.4" cy="726.1" r="2.85"/><circle cx="539.5" cy="727.7" r="2.85"/><circle cx="542.0" cy="727.8" r="2.85"/><circle cx="545.2" cy="729.4" r="2.85"/><circle cx="557.5" cy="734.7" r="2.85"/><circle cx="560.1" cy="735.6" r="2.85"/><circle cx="565.7" cy="737.1" r="2.85"/><circle cx="568.3" cy="739.1" r="2.85"/><circle cx="570.5" cy="739.6" r="2.85"/><circle cx="573.7" cy="740.2" r="2.85"/><circle cx="576.4" cy="741.3" r="2.85"/><circle cx="580.6" cy="743.9" r="2.85"/><circle cx="532.0" cy="726.4" r="2.85"/><circle cx="539.6" cy="730.1" r="2.85"/><circle cx="544.9" cy="731.6" r="2.85"/><circle cx="547.4" cy="733.2" r="2.85"/><circle cx="550.3" cy="733.9" r="2.85"/><circle cx="552.7" cy="735.1" r="2.85"/><circle cx="554.8" cy="736.6" r="2.85"/><circle cx="560.0" cy="738.1" r="2.85"/><circle cx="562.9" cy="739.5" r="2.85"/><circle cx="566.1" cy="740.6" r="2.85"/><circle cx="575.7" cy="744.6" r="2.85"/><circle cx="578.5" cy="745.7" r="2.85"/><circle cx="536.6" cy="731.8" r="2.85"/><circle cx="539.4" cy="732.7" r="2.85"/><circle cx="549.7" cy="737.2" r="2.85"/><circle cx="552.5" cy="737.4" r="2.85"/><circle cx="554.8" cy="738.6" r="2.85"/><circle cx="565.0" cy="743.4" r="2.85"/><circle cx="570.9" cy="745.3" r="2.85"/><circle cx="572.5" cy="745.9" r="2.85"/><circle cx="575.0" cy="747.2" r="2.85"/><circle cx="578.1" cy="747.6" r="2.85"/><circle cx="532.4" cy="731.6" r="2.85"/><circle cx="535.3" cy="733.0" r="2.85"/><circle cx="537.7" cy="734.3" r="2.85"/><circle cx="540.1" cy="735.2" r="2.85"/><circle cx="547.3" cy="738.0" r="2.85"/><circle cx="550.4" cy="739.3" r="2.85"/><circle cx="552.6" cy="740.5" r="2.85"/><circle cx="558.0" cy="743.0" r="2.85"/><circle cx="562.9" cy="744.9" r="2.85"/><circle cx="566.0" cy="745.7" r="2.85"/><circle cx="571.0" cy="748.3" r="2.85"/><circle cx="533.0" cy="735.2" r="2.85"/><circle cx="535.5" cy="737.2" r="2.85"/><circle cx="540.8" cy="738.8" r="2.85"/><circle cx="543.7" cy="740.2" r="2.85"/><circle cx="545.7" cy="740.7" r="2.85"/><circle cx="548.0" cy="742.4" r="2.85"/><circle cx="550.7" cy="743.2" r="2.85"/><circle cx="554.1" cy="743.4" r="2.85"/><circle cx="556.5" cy="744.9" r="2.85"/><circle cx="566.8" cy="748.7" r="2.85"/><circle cx="569.3" cy="750.8" r="2.85"/><circle cx="533.5" cy="740.0" r="2.85"/><circle cx="535.9" cy="740.4" r="2.85"/><circle cx="538.3" cy="742.0" r="2.85"/><circle cx="540.7" cy="742.4" r="2.85"/><circle cx="545.5" cy="744.4" r="2.85"/><circle cx="548.4" cy="746.2" r="2.85"/><circle cx="551.5" cy="747.3" r="2.85"/><circle cx="553.2" cy="747.6" r="2.85"/><circle cx="558.5" cy="749.6" r="2.85"/><circle cx="561.8" cy="751.6" r="2.85"/><circle cx="564.6" cy="752.1" r="2.85"/><circle cx="569.2" cy="754.6" r="2.85"/><circle cx="533.8" cy="743.5" r="2.85"/><circle cx="537.1" cy="744.0" r="2.85"/><circle cx="539.4" cy="745.4" r="2.85"/><circle cx="541.6" cy="746.1" r="2.85"/><circle cx="543.9" cy="747.0" r="2.85"/><circle cx="549.9" cy="748.8" r="2.85"/><circle cx="552.7" cy="750.4" r="2.85"/><circle cx="554.4" cy="752.0" r="2.85"/><circle cx="557.3" cy="752.3" r="2.85"/><circle cx="567.3" cy="756.3" r="2.85"/><circle cx="539.1" cy="748.5" r="2.85"/><circle cx="542.0" cy="749.6" r="2.85"/><circle cx="544.3" cy="750.3" r="2.85"/><circle cx="546.8" cy="752.2" r="2.85"/><circle cx="550.1" cy="752.8" r="2.85"/><circle cx="555.0" cy="754.5" r="2.85"/><circle cx="556.8" cy="755.8" r="2.85"/><circle cx="477.2" cy="740.3" r="2.85"/><circle cx="477.2" cy="745.3" r="2.85"/><circle cx="484.2" cy="750.8" r="2.85"/><circle cx="494.3" cy="754.8" r="2.85"/><circle cx="512.0" cy="758.8" r="2.85"/><circle cx="522.9" cy="754.0" r="2.85"/><circle cx="534.6" cy="760.0" r="2.85"/><circle cx="555.8" cy="760.5" r="2.85"/><circle cx="559.8" cy="762.9" r="2.85"/><circle cx="556.8" cy="781.6" r="2.85"/><circle cx="521.5" cy="778.6" r="2.85"/><circle cx="484.2" cy="778.6" r="2.85"/><circle cx="564.8" cy="803.8" r="2.85"/><circle cx="561.6" cy="829.1" r="2.85"/><circle cx="477.2" cy="771.5" r="2.85"/><circle cx="480.7" cy="771.5" r="2.85"/><circle cx="484.2" cy="771.5" r="2.85"/><circle cx="487.8" cy="771.5" r="2.85"/><circle cx="491.3" cy="771.5" r="2.85"/><circle cx="582.0" cy="754.4" r="2.85"/><circle cx="578.0" cy="757.4" r="2.85"/><circle cx="572.9" cy="756.4" r="2.85"/><circle cx="630.4" cy="665.7" r="2.85"/><circle cx="633.9" cy="670.3" r="2.85"/><circle cx="641.2" cy="664.7" r="2.85"/><circle cx="637.6" cy="686.5" r="2.85"/><circle cx="721.2" cy="680.9" r="2.85"/><circle cx="662.4" cy="705.8" r="2.85"/><circle cx="674.0" cy="713.5" r="2.85"/><circle cx="684.2" cy="715.6" r="2.85"/><circle cx="684.4" cy="721.2" r="2.85"/><circle cx="657.6" cy="723.5" r="2.85"/><circle cx="653.6" cy="742.6" r="2.85"/><circle cx="665.1" cy="750.3" r="2.85"/><circle cx="681.7" cy="752.0" r="2.85"/><circle cx="681.7" cy="757.6" r="2.85"/><circle cx="671.3" cy="758.2" r="2.85"/><circle cx="639.1" cy="757.6" r="2.85"/><circle cx="696.9" cy="717.0" r="2.85"/><circle cx="701.0" cy="723.9" r="2.85"/><circle cx="697.3" cy="728.1" r="2.85"/><circle cx="692.7" cy="733.3" r="2.85"/><circle cx="698.3" cy="738.0" r="2.85"/><circle cx="707.7" cy="714.6" r="2.85"/><circle cx="711.8" cy="735.3" r="2.85"/><circle cx="719.1" cy="719.3" r="2.85"/><circle cx="723.3" cy="719.8" r="2.85"/><circle cx="721.2" cy="724.9" r="2.85"/><circle cx="723.9" cy="735.3" r="2.85"/><circle cx="727.4" cy="742.6" r="2.85"/><circle cx="729.5" cy="749.9" r="2.85"/><circle cx="735.7" cy="721.2" r="2.85"/><circle cx="713.9" cy="759.2" r="2.85"/><circle cx="619.4" cy="717.3" r="2.85"/><circle cx="622.9" cy="719.4" r="2.85"/><circle cx="626.6" cy="721.4" r="2.85"/><circle cx="630.2" cy="722.9" r="2.85"/><circle cx="634.9" cy="726.0" r="2.85"/><circle cx="639.1" cy="728.1" r="2.85"/><circle cx="614.2" cy="728.1" r="2.85"/><circle cx="618.3" cy="729.7" r="2.85"/><circle cx="622.5" cy="731.2" r="2.85"/><circle cx="626.6" cy="733.9" r="2.85"/><circle cx="614.2" cy="738.5" r="2.85"/><circle cx="626.7" cy="795.1" r="2.85"/><circle cx="733.5" cy="798.3" r="2.85"/><circle cx="716.3" cy="768.8" r="2.85"/><circle cx="651.7" cy="764.9" r="2.85"/><circle cx="658.1" cy="764.4" r="2.85"/><circle cx="591.8" cy="746.7" r="2.85"/></g><rect x="451.80" y="609.60" width="323.15" height="239.40" fill="none" stroke="#000" stroke-width="1.5"/><g font-size="14.5" fill="#000" stroke="#000" stroke-width="0.15"><text x="439.40" y="854.00" text-anchor="end">-30</text><text x="439.40" y="814.10" text-anchor="end">-20</text><text x="439.40" y="774.20" text-anchor="end">-10</text><text x="439.40" y="734.30" text-anchor="end">0</text><text x="439.40" y="694.40" text-anchor="end">10</text><text x="439.40" y="654.50" text-anchor="end">20</text><text x="439.40" y="614.60" text-anchor="end">30</text><text x="451.80" y="870.50" text-anchor="middle">30</text><text x="516.43" y="870.50" text-anchor="middle">40</text><text x="581.06" y="870.50" text-anchor="middle">50</text><text x="645.69" y="870.50" text-anchor="middle">60</text><text x="710.32" y="870.50" text-anchor="middle">70</text><text x="774.95" y="870.50" text-anchor="middle">80</text><text x="613.52" y="886.40" text-anchor="middle" letter-spacing="0.29">Experimental surface tension (mN/m)</text><text transform="translate(411.6,729.30) rotate(-90)" text-anchor="middle">Surface tension deviation by GC model</text><text transform="translate(428.3,729.30) rotate(-90)" text-anchor="middle">(mN/m)</text></g><g stroke="#FF6060" stroke-width="0.9" fill="none"><rect x="460.1" y="814.7" width="5.2" height="5.2"/></g><g stroke="#4EC0F0" stroke-width="0.9" fill="none"><circle cx="462.7" cy="837.3" r="2.7"/></g><g font-size="14.4" fill="#000" stroke="#000" stroke-width="0.15"><text x="470.0" y="822.3000000000001">Test data set</text><text x="470.0" y="842.4">Trainning data set</text></g></svg></body></html>
